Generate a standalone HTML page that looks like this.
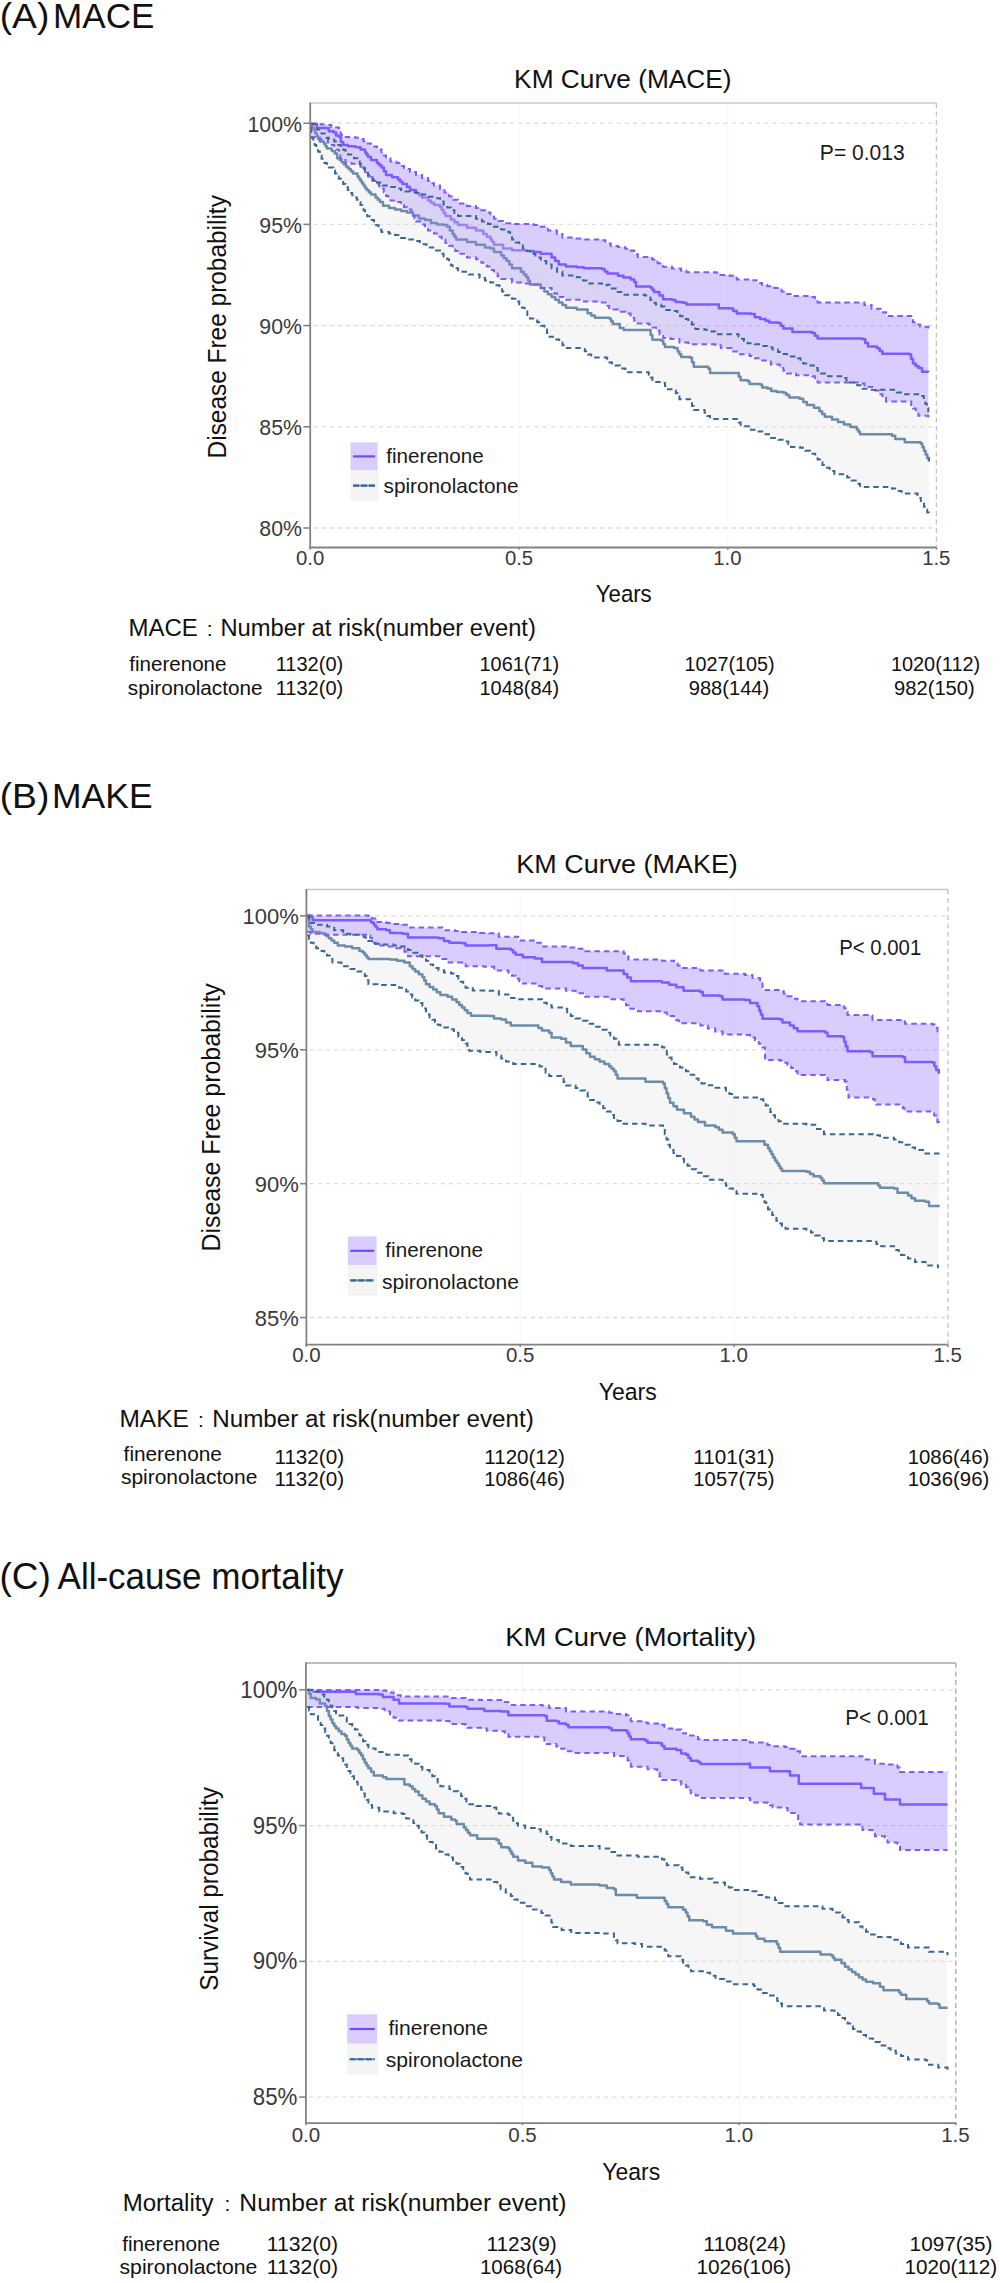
<!DOCTYPE html>
<html><head><meta charset="utf-8"><style>
html,body{margin:0;padding:0;background:#fff;}
svg{display:block;font-family:"Liberation Sans",sans-serif;}
</style></head><body>
<svg width="1000" height="2283" viewBox="0 0 1000 2283">
<rect width="1000" height="2283" fill="#ffffff"/>
<line x1="313.2" y1="123.2" x2="934.4" y2="123.2" stroke="#dcdcdc" stroke-width="1.3" stroke-dasharray="4.2,4"/>
<line x1="313.2" y1="224.4" x2="934.4" y2="224.4" stroke="#dcdcdc" stroke-width="1.3" stroke-dasharray="4.2,4"/>
<line x1="313.2" y1="325.6" x2="934.4" y2="325.6" stroke="#dcdcdc" stroke-width="1.3" stroke-dasharray="4.2,4"/>
<line x1="313.2" y1="426.8" x2="934.4" y2="426.8" stroke="#dcdcdc" stroke-width="1.3" stroke-dasharray="4.2,4"/>
<line x1="313.2" y1="528.0" x2="934.4" y2="528.0" stroke="#dcdcdc" stroke-width="1.3" stroke-dasharray="4.2,4"/>
<line x1="519.0" y1="103.0" x2="519.0" y2="547.5" stroke="#f7f7f7" stroke-width="1"/>
<line x1="727.8" y1="103.0" x2="727.8" y2="547.5" stroke="#f7f7f7" stroke-width="1"/>
<line x1="310.2" y1="103.0" x2="936.4" y2="103.0" stroke="#c8c8c8" stroke-width="1.5"/>
<line x1="936.4" y1="103.0" x2="936.4" y2="547.5" stroke="#c4c4c4" stroke-width="1.3" stroke-dasharray="5,3.5"/>
<path d="M310.8,124.0L316.8,124.0L316.8,127.9L327.0,127.9L327.0,128.2L328.8,128.2L328.8,131.2L333.6,131.2L333.6,132.4L336.0,132.4L336.0,135.4L338.4,135.4L338.4,136.6L340.8,136.6L340.8,142.0L343.2,142.0L343.2,145.0L348.0,145.0L348.0,146.2L355.2,146.2L355.2,146.8L356.0,146.8L356.0,147.2L360.5,147.2L360.5,149.5L365.0,149.5L365.0,152.5L366.5,152.5L366.5,154.8L368.0,154.8L368.0,157.0L371.0,157.0L371.0,160.0L377.0,160.0L377.0,163.0L379.2,163.0L379.2,165.2L381.5,165.2L381.5,167.5L383.8,167.5L383.8,171.2L386.0,171.2L386.0,175.0L392.0,175.0L392.0,177.2L398.0,177.2L398.0,179.5L400.2,179.5L400.2,181.8L402.5,181.8L402.5,184.0L407.0,184.0L407.0,187.0L410.0,187.0L410.0,190.0L416.0,190.0L416.0,193.0L419.0,193.0L419.0,195.2L422.0,195.2L422.0,197.5L428.0,197.5L428.0,200.5L431.0,200.5L431.0,202.8L434.0,202.8L434.0,205.0L440.0,205.0L440.0,207.0L441.8,207.0L441.8,210.0L443.6,210.0L443.6,213.0L445.4,213.0L445.4,216.0L450.8,216.0L450.8,219.6L454.4,219.6L454.4,222.3L458.0,222.3L458.0,225.0L467.0,225.0L467.0,227.7L476.0,227.7L476.0,230.4L483.2,230.4L483.2,234.0L486.8,234.0L486.8,236.7L490.4,236.7L490.4,239.4L492.2,239.4L492.2,242.1L494.0,242.1L494.0,244.8L503.0,244.8L503.0,248.4L512.0,248.4L512.0,250.2L526.4,250.2L526.4,251.1L533.6,251.1L533.6,252.0L540.8,252.0L540.8,253.8L551.6,253.8L551.6,257.4L555.2,257.4L555.2,261.0L558.8,261.0L558.8,264.6L566.0,264.6L566.0,266.4L576.8,266.4L576.8,267.3L584.0,267.3L584.0,268.2L602.0,268.2L602.0,269.1L604.7,269.1L604.7,271.4L607.4,271.4L607.4,273.6L618.0,273.6L618.0,275.8L623.4,275.8L623.4,277.6L630.6,277.6L630.6,279.4L634.2,279.4L634.2,282.1L636.0,282.1L636.0,286.6L650.4,286.6L650.4,287.5L652.2,287.5L652.2,289.8L654.0,289.8L654.0,292.0L659.4,292.0L659.4,295.6L663.0,295.6L663.0,299.2L672.0,299.2L672.0,300.1L675.6,300.1L675.6,301.9L682.8,301.9L682.8,302.8L686.4,302.8L686.4,304.6L715.2,304.6L715.2,304.6L718.8,304.6L718.8,308.2L729.6,308.2L729.6,308.6L733.2,308.6L733.2,310.9L736.8,310.9L736.8,313.6L751.2,313.6L751.2,314.0L754.8,314.0L754.8,317.2L760.2,317.2L760.2,319.0L765.6,319.0L765.6,320.8L769.2,320.8L769.2,322.6L778.0,322.6L778.0,323.1L780.7,323.1L780.7,325.8L783.4,325.8L783.4,328.5L792.4,328.5L792.4,332.1L812.2,332.1L812.2,333.0L814.9,333.0L814.9,335.7L817.6,335.7L817.6,338.4L862.6,338.4L862.6,339.3L865.3,339.3L865.3,342.9L868.0,342.9L868.0,346.5L877.0,346.5L877.0,348.3L879.7,348.3L879.7,351.0L882.4,351.0L882.4,353.7L909.4,353.7L909.4,354.6L911.2,354.6L911.2,359.1L913.0,359.1L913.0,363.6L915.7,363.6L915.7,365.9L918.4,365.9L918.4,368.1L922.0,368.1L922.0,371.7L928.3,371.7L928.3,372.2" fill="none" stroke="#7a5cff" stroke-width="2.5" stroke-linejoin="round"/>
<path d="M310.8,125.2L312.3,125.2L312.3,127.6L313.8,127.6L313.8,130.0L315.3,130.0L315.3,133.3L316.8,133.3L316.8,136.6L318.3,136.6L318.3,139.0L319.8,139.0L319.8,141.4L324.0,141.4L324.0,143.8L325.5,143.8L325.5,146.2L327.0,146.2L327.0,148.6L331.8,148.6L331.8,151.0L334.8,151.0L334.8,153.4L337.2,153.4L337.2,158.2L339.5,158.2L339.5,160.0L341.8,160.0L341.8,162.2L344.0,162.2L344.0,164.5L346.2,164.5L346.2,166.8L348.5,166.8L348.5,169.0L350.8,169.0L350.8,171.2L353.0,171.2L353.0,173.5L357.5,173.5L357.5,176.5L359.0,176.5L359.0,178.8L360.5,178.8L360.5,181.0L362.0,181.0L362.0,183.2L363.5,183.2L363.5,185.5L365.0,185.5L365.0,187.8L366.5,187.8L366.5,190.0L368.8,190.0L368.8,192.2L371.0,192.2L371.0,194.5L375.5,194.5L375.5,197.5L377.8,197.5L377.8,199.8L380.0,199.8L380.0,202.0L383.0,202.0L383.0,205.8L389.0,205.8L389.0,208.0L395.0,208.0L395.0,209.5L401.0,209.5L401.0,211.0L407.0,211.0L407.0,212.5L413.0,212.5L413.0,215.5L419.0,215.5L419.0,218.5L425.0,218.5L425.0,220.0L431.0,220.0L431.0,223.0L437.0,223.0L437.0,224.5L443.6,224.5L443.6,225.0L447.2,225.0L447.2,226.8L449.9,226.8L449.9,230.4L452.6,230.4L452.6,234.0L454.4,234.0L454.4,236.7L456.2,236.7L456.2,239.4L467.0,239.4L467.0,242.1L476.0,242.1L476.0,244.8L485.0,244.8L485.0,247.5L490.4,247.5L490.4,248.4L494.0,248.4L494.0,252.0L501.2,252.0L501.2,255.6L503.9,255.6L503.9,258.3L506.6,258.3L506.6,261.0L509.3,261.0L509.3,264.6L512.0,264.6L512.0,268.2L521.0,268.2L521.0,271.8L523.7,271.8L523.7,274.5L526.4,274.5L526.4,277.2L528.2,277.2L528.2,280.8L530.0,280.8L530.0,284.4L540.8,284.4L540.8,288.0L544.4,288.0L544.4,291.6L548.0,291.6L548.0,294.3L551.6,294.3L551.6,297.0L555.2,297.0L555.2,299.7L558.8,299.7L558.8,302.4L562.4,302.4L562.4,305.1L566.0,305.1L566.0,307.8L576.8,307.8L576.8,309.6L587.6,309.6L587.6,313.2L591.2,313.2L591.2,315.4L594.8,315.4L594.8,317.7L609.2,317.7L609.2,318.6L611.0,318.6L611.0,321.3L612.8,321.3L612.8,324.0L619.8,324.0L619.8,328.0L623.6,328.0L623.6,329.9L648.8,329.9L648.8,329.9L650.6,329.9L650.6,334.9L652.4,334.9L652.4,339.8L661.4,339.8L661.4,340.7L663.2,340.7L663.2,343.9L665.0,343.9L665.0,347.0L674.0,347.0L674.0,347.9L677.6,347.9L677.6,351.5L679.4,351.5L679.4,354.2L681.2,354.2L681.2,356.9L690.2,356.9L690.2,357.8L692.0,357.8L692.0,362.3L693.8,362.3L693.8,366.8L708.2,366.8L708.2,368.6L710.0,368.6L710.0,373.1L737.0,373.1L737.0,373.1L738.8,373.1L738.8,376.7L740.6,376.7L740.6,380.3L747.8,380.3L747.8,381.2L749.6,381.2L749.6,383.9L760.4,383.9L760.4,384.8L762.2,384.8L762.2,387.5L767.6,387.5L767.6,388.4L771.2,388.4L771.2,391.1L776.6,391.1L776.6,392.0L783.8,392.0L783.8,392.9L786.5,392.9L786.5,395.1L789.2,395.1L789.2,397.4L799.6,397.4L799.6,398.7L803.2,398.7L803.2,401.9L806.8,401.9L806.8,405.0L814.0,405.0L814.0,407.7L819.4,407.7L819.4,411.3L822.1,411.3L822.1,414.0L824.8,414.0L824.8,416.7L832.0,416.7L832.0,419.4L838.0,419.4L838.0,422.0L844.0,422.0L844.0,424.6L850.4,424.6L850.4,427.0L856.8,427.0L856.8,429.4L858.4,429.4L858.4,431.8L860.0,431.8L860.0,434.2L892.0,434.2L892.0,435.8L895.2,435.8L895.2,439.0L904.8,439.0L904.8,442.2L920.8,442.2L920.8,443.8L922.4,443.8L922.4,447.3L924.0,447.3L924.0,450.8L925.6,450.8L925.6,454.4L927.2,454.4L927.2,457.9L928.8,457.9L928.8,461.4" fill="none" stroke="#3c6792" stroke-width="2.5" stroke-linejoin="round"/>
<path d="M310.8,123.4L315.6,123.4L315.6,124.0L321.0,124.0L321.0,124.6L325.8,124.6L325.8,124.9L331.2,124.9L331.2,127.0L333.6,127.0L333.6,127.6L339.0,127.6L339.0,130.6L340.8,130.6L340.8,134.8L343.2,134.8L343.2,136.9L349.2,136.9L349.2,137.2L355.8,137.2L355.8,137.8L359.0,137.8L359.0,139.0L363.5,139.0L363.5,141.2L366.5,141.2L366.5,143.5L371.0,143.5L371.0,146.5L377.0,146.5L377.0,149.5L381.5,149.5L381.5,152.5L383.8,152.5L383.8,155.5L386.0,155.5L386.0,158.5L390.5,158.5L390.5,161.5L396.5,161.5L396.5,163.0L401.0,163.0L401.0,166.0L404.0,166.0L404.0,169.0L410.0,169.0L410.0,172.0L416.0,172.0L416.0,175.0L422.0,175.0L422.0,178.0L428.0,178.0L428.0,181.0L431.0,181.0L431.0,183.2L434.0,183.2L434.0,185.5L440.0,185.5L440.0,189.0L444.5,189.0L444.5,192.6L449.0,192.6L449.0,196.2L453.5,196.2L453.5,199.8L458.0,199.8L458.0,203.4L467.0,203.4L467.0,206.1L476.0,206.1L476.0,207.9L481.4,207.9L481.4,210.2L486.8,210.2L486.8,212.4L490.4,212.4L490.4,215.6L494.0,215.6L494.0,218.7L498.5,218.7L498.5,220.9L503.0,220.9L503.0,223.2L512.0,223.2L512.0,224.1L522.8,224.1L522.8,224.1L533.6,224.1L533.6,225.0L540.8,225.0L540.8,226.8L548.0,226.8L548.0,230.4L557.0,230.4L557.0,234.0L562.4,234.0L562.4,237.6L575.0,237.6L575.0,238.5L584.0,238.5L584.0,239.4L602.0,239.4L602.0,240.3L605.4,240.3L605.4,243.4L610.8,243.4L610.8,246.1L618.0,246.1L618.0,247.0L625.2,247.0L625.2,248.8L630.6,248.8L630.6,250.6L634.2,250.6L634.2,254.2L637.8,254.2L637.8,256.9L648.6,256.9L648.6,256.9L652.2,256.9L652.2,259.6L657.6,259.6L657.6,263.2L663.0,263.2L663.0,266.8L672.0,266.8L672.0,268.6L681.0,268.6L681.0,270.4L686.4,270.4L686.4,272.2L715.2,272.2L715.2,272.6L720.6,272.6L720.6,274.9L729.6,274.9L729.6,275.8L736.8,275.8L736.8,279.4L751.2,279.4L751.2,280.3L756.6,280.3L756.6,283.0L762.0,283.0L762.0,284.8L767.2,284.8L767.2,286.2L774.4,286.2L774.4,288.0L781.6,288.0L781.6,291.6L786.1,291.6L786.1,293.9L790.6,293.9L790.6,296.1L812.2,296.1L812.2,297.0L814.9,297.0L814.9,299.7L817.6,299.7L817.6,302.4L860.8,302.4L860.8,302.4L864.4,302.4L864.4,305.1L871.6,305.1L871.6,308.7L880.6,308.7L880.6,312.3L886.0,312.3L886.0,315.9L909.4,315.9L909.4,315.9L911.2,315.9L911.2,319.0L913.0,319.0L913.0,322.2L916.6,322.2L916.6,324.4L920.2,324.4L920.2,326.7L928.3,326.7L928.3,330.3L928.3,419.4L928.3,415.8L918.4,415.8L918.4,412.2L915.7,412.2L915.7,408.6L913.0,408.6L913.0,405.0L911.2,405.0L911.2,401.4L909.4,401.4L909.4,401.4L886.0,401.4L886.0,397.8L882.4,397.8L882.4,394.2L878.8,394.2L878.8,390.6L875.2,390.6L875.2,387.0L864.4,387.0L864.4,383.4L860.8,383.4L860.8,382.5L842.8,382.5L842.8,382.5L817.6,382.5L817.6,379.4L814.9,379.4L814.9,376.2L812.2,376.2L812.2,375.3L796.0,375.3L796.0,373.5L787.0,373.5L787.0,370.8L783.4,370.8L783.4,368.1L779.8,368.1L779.8,364.5L770.8,364.5L770.8,360.5L760.4,360.5L760.4,358.2L755.0,358.2L755.0,356.0L749.6,356.0L749.6,354.2L738.8,354.2L738.8,351.5L731.6,351.5L731.6,347.9L720.8,347.9L720.8,345.2L715.4,345.2L715.4,344.3L710.0,344.3L710.0,344.3L688.4,344.3L688.4,342.5L679.4,342.5L679.4,338.9L670.4,338.9L670.4,338.0L663.2,338.0L663.2,334.4L659.6,334.4L659.6,330.8L656.0,330.8L656.0,327.6L652.4,327.6L652.4,324.5L648.8,324.5L648.8,323.5L636.0,323.5L636.0,320.8L634.2,320.8L634.2,318.1L632.4,318.1L632.4,315.4L630.6,315.4L630.6,313.6L625.2,313.6L625.2,311.8L618.0,311.8L618.0,309.6L609.2,309.6L609.2,306.0L605.6,306.0L605.6,302.4L598.4,302.4L598.4,301.5L584.0,301.5L584.0,299.7L566.0,299.7L566.0,297.0L557.0,297.0L557.0,293.4L554.3,293.4L554.3,289.8L551.6,289.8L551.6,288.0L540.8,288.0L540.8,284.4L530.0,284.4L530.0,283.5L521.0,283.5L521.0,282.6L512.0,282.6L512.0,279.0L501.2,279.0L501.2,276.3L497.6,276.3L497.6,273.6L494.0,273.6L494.0,270.0L490.4,270.0L490.4,266.4L486.8,266.4L486.8,262.8L481.4,262.8L481.4,259.2L476.0,259.2L476.0,257.4L467.0,257.4L467.0,253.8L458.0,253.8L458.0,251.1L455.3,251.1L455.3,248.4L452.6,248.4L452.6,245.7L449.0,245.7L449.0,243.0L445.4,243.0L445.4,239.8L441.6,239.8L441.6,236.7L437.8,236.7L437.8,233.5L434.0,233.5L434.0,230.5L428.0,230.5L428.0,227.5L425.0,227.5L425.0,224.5L422.0,224.5L422.0,221.5L416.0,221.5L416.0,218.5L414.5,218.5L414.5,215.5L413.0,215.5L413.0,212.5L411.5,212.5L411.5,209.5L407.0,209.5L407.0,207.2L404.0,207.2L404.0,205.0L401.0,205.0L401.0,202.0L395.0,202.0L395.0,200.5L390.5,200.5L390.5,198.2L388.2,198.2L388.2,196.0L386.0,196.0L386.0,192.2L383.8,192.2L383.8,188.5L381.5,188.5L381.5,186.2L379.2,186.2L379.2,184.0L377.0,184.0L377.0,181.0L372.5,181.0L372.5,178.8L370.2,178.8L370.2,176.5L368.0,176.5L368.0,174.2L366.5,174.2L366.5,172.0L365.0,172.0L365.0,169.4L362.8,169.4L362.8,166.8L360.5,166.8L360.5,164.5L356.0,164.5L356.0,163.8L351.5,163.8L351.5,163.0L345.5,163.0L345.5,160.0L342.5,160.0L342.5,158.2L340.2,158.2L340.2,154.0L339.0,154.0L339.0,149.8L336.6,149.8L336.6,148.0L334.2,148.0L334.2,145.0L330.0,145.0L330.0,142.6L327.6,142.6L327.6,139.6L324.0,139.6L324.0,139.6L319.8,139.6L319.8,137.5L315.0,137.5L315.0,137.2L311.2,137.2L311.2,127.0L310.8,127.0Z" fill="rgba(130,88,255,0.3)" stroke="none"/>
<path d="M310.8,124.0L315.0,124.0L315.0,127.0L317.1,127.0L317.1,129.4L319.2,129.4L319.2,131.8L321.6,131.8L321.6,133.6L326.4,133.6L326.4,137.8L328.8,137.8L328.8,139.6L334.2,139.6L334.2,141.4L336.0,141.4L336.0,145.0L340.8,145.0L340.8,148.6L343.2,148.6L343.2,149.8L345.6,149.8L345.6,152.2L348.0,152.2L348.0,154.6L354.0,154.6L354.0,158.2L357.5,158.2L357.5,161.5L359.8,161.5L359.8,163.8L362.0,163.8L362.0,166.0L363.5,166.0L363.5,168.2L365.0,168.2L365.0,170.5L366.5,170.5L366.5,172.8L368.0,172.8L368.0,175.0L370.2,175.0L370.2,177.2L372.5,177.2L372.5,179.5L377.0,179.5L377.0,182.5L383.0,182.5L383.0,185.5L389.0,185.5L389.0,187.0L395.0,187.0L395.0,188.5L401.0,188.5L401.0,190.0L405.5,190.0L405.5,191.5L410.0,191.5L410.0,192.2L416.0,192.2L416.0,193.0L422.0,193.0L422.0,194.5L428.0,194.5L428.0,196.8L434.0,196.8L434.0,198.2L440.0,198.2L440.0,201.6L443.6,201.6L443.6,204.5L447.2,204.5L447.2,207.4L450.8,207.4L450.8,210.2L454.4,210.2L454.4,213.1L458.0,213.1L458.0,216.0L476.0,216.0L476.0,218.7L482.0,218.7L482.0,221.4L488.0,221.4L488.0,224.1L494.0,224.1L494.0,226.8L501.2,226.8L501.2,229.5L508.4,229.5L508.4,232.2L510.2,232.2L510.2,235.8L512.0,235.8L512.0,239.4L515.6,239.4L515.6,242.4L519.2,242.4L519.2,245.4L522.8,245.4L522.8,248.4L526.4,248.4L526.4,251.1L530.0,251.1L530.0,253.8L535.4,253.8L535.4,257.4L540.8,257.4L540.8,261.0L546.2,261.0L546.2,264.6L551.6,264.6L551.6,268.2L557.0,268.2L557.0,271.8L562.4,271.8L562.4,275.4L576.8,275.4L576.8,277.2L583.1,277.2L583.1,280.4L589.4,280.4L589.4,283.5L602.0,283.5L602.0,285.3L607.2,285.3L607.2,284.8L610.8,284.8L610.8,288.4L616.2,288.4L616.2,292.0L623.4,292.0L623.4,294.7L645.0,294.7L645.0,295.6L648.6,295.6L648.6,297.4L650.4,297.4L650.4,300.1L652.2,300.1L652.2,302.8L655.8,302.8L655.8,304.6L661.2,304.6L661.2,306.4L664.8,306.4L664.8,310.0L672.0,310.0L672.0,310.9L677.4,310.9L677.4,313.6L680.1,313.6L680.1,316.3L682.8,316.3L682.8,319.0L688.2,319.0L688.2,319.9L690.0,319.9L690.0,322.1L691.8,322.1L691.8,324.4L693.6,324.4L693.6,326.6L695.4,326.6L695.4,328.9L704.4,328.9L704.4,329.8L711.6,329.8L711.6,331.6L715.2,331.6L715.2,334.3L736.8,334.3L736.8,334.3L738.6,334.3L738.6,336.6L740.4,336.6L740.4,338.8L744.0,338.8L744.0,341.1L747.6,341.1L747.6,343.3L754.8,343.3L754.8,344.2L762.0,344.2L762.0,346.0L767.2,346.0L767.2,347.4L772.6,347.4L772.6,349.6L778.0,349.6L778.0,351.9L782.5,351.9L782.5,354.1L787.0,354.1L787.0,356.4L797.8,356.4L797.8,358.2L800.5,358.2L800.5,360.9L803.2,360.9L803.2,363.6L810.4,363.6L810.4,365.4L815.8,365.4L815.8,368.1L817.6,368.1L817.6,370.8L819.4,370.8L819.4,373.5L824.8,373.5L824.8,376.2L842.8,376.2L842.8,378.0L846.4,378.0L846.4,380.2L850.0,380.2L850.0,382.5L857.2,382.5L857.2,385.2L862.6,385.2L862.6,388.8L868.0,388.8L868.0,389.7L896.8,389.7L896.8,392.4L904.0,392.4L904.0,394.2L920.2,394.2L920.2,396.0L923.8,396.0L923.8,399.6L925.3,399.6L925.3,403.8L926.8,403.8L926.8,408.0L928.3,408.0L928.3,412.2L928.8,514.2L928.8,512.6L927.2,512.6L927.2,509.7L925.6,509.7L925.6,506.7L924.0,506.7L924.0,503.8L922.4,503.8L922.4,500.9L920.8,500.9L920.8,497.9L919.2,497.9L919.2,495.0L917.6,495.0L917.6,493.4L901.6,493.4L901.6,491.0L896.8,491.0L896.8,488.6L892.0,488.6L892.0,487.0L860.0,487.0L860.0,483.8L855.7,483.8L855.7,480.6L851.5,480.6L851.5,477.4L847.2,477.4L847.2,474.2L834.4,474.2L834.4,471.0L829.6,471.0L829.6,467.8L824.8,467.8L824.8,465.0L822.4,465.0L822.4,462.2L820.0,462.2L820.0,459.4L817.6,459.4L817.6,456.6L815.2,456.6L815.2,453.7L810.1,453.7L810.1,450.7L805.1,450.7L805.1,447.8L800.0,447.8L800.0,446.9L791.0,446.9L791.0,444.2L788.3,444.2L788.3,441.5L785.6,441.5L785.6,439.7L778.4,439.7L778.4,437.9L771.2,437.9L771.2,434.3L764.0,434.3L764.0,431.6L756.8,431.6L756.8,429.8L749.6,429.8L749.6,426.2L740.6,426.2L740.6,422.6L738.8,422.6L738.8,419.0L737.0,419.0L737.0,419.0L710.0,419.0L710.0,415.9L707.3,415.9L707.3,412.7L704.6,412.7L704.6,410.0L693.8,410.0L693.8,405.9L692.0,405.9L692.0,401.9L690.2,401.9L690.2,399.2L679.4,399.2L679.4,396.2L677.6,396.2L677.6,393.2L675.8,393.2L675.8,390.2L674.0,390.2L674.0,389.3L666.8,389.3L666.8,386.1L665.0,386.1L665.0,383.0L663.2,383.0L663.2,382.1L654.2,382.1L654.2,379.9L652.4,379.9L652.4,377.6L650.6,377.6L650.6,374.9L648.8,374.9L648.8,372.2L647.0,372.2L647.0,372.2L625.4,372.2L625.4,368.6L620.0,368.6L620.0,365.6L612.0,365.6L612.0,362.4L609.6,362.4L609.6,359.2L607.2,359.2L607.2,357.6L591.2,357.6L591.2,354.4L588.0,354.4L588.0,351.2L584.8,351.2L584.8,348.0L565.6,348.0L565.6,345.2L562.4,345.2L562.4,342.4L559.2,342.4L559.2,339.6L554.4,339.6L554.4,336.8L549.6,336.8L549.6,333.1L547.0,333.1L547.0,329.4L544.4,329.4L544.4,325.8L540.8,325.8L540.8,322.2L537.2,322.2L537.2,318.6L530.0,318.6L530.0,315.0L527.3,315.0L527.3,311.4L524.6,311.4L524.6,307.8L521.9,307.8L521.9,304.2L519.2,304.2L519.2,301.5L515.6,301.5L515.6,298.8L512.0,298.8L512.0,295.2L504.8,295.2L504.8,291.6L502.1,291.6L502.1,288.0L499.4,288.0L499.4,285.3L494.9,285.3L494.9,282.6L490.4,282.6L490.4,280.4L485.0,280.4L485.0,278.1L479.6,278.1L479.6,274.5L468.8,274.5L468.8,271.8L458.0,271.8L458.0,268.2L452.6,268.2L452.6,265.2L450.8,265.2L450.8,262.2L449.0,262.2L449.0,259.2L447.2,259.2L447.2,256.5L443.6,256.5L443.6,253.8L440.0,253.8L440.0,250.6L433.2,250.6L433.2,247.4L426.5,247.4L426.5,244.2L419.8,244.2L419.8,241.0L413.0,241.0L413.0,239.5L407.0,239.5L407.0,238.0L401.0,238.0L401.0,235.0L395.0,235.0L395.0,233.5L389.0,233.5L389.0,232.0L381.5,232.0L381.5,229.8L380.0,229.8L380.0,227.5L378.5,227.5L378.5,225.2L376.2,225.2L376.2,223.0L374.0,223.0L374.0,220.0L369.5,220.0L369.5,216.2L367.2,216.2L367.2,212.5L365.0,212.5L365.0,210.2L363.5,210.2L363.5,208.0L362.0,208.0L362.0,205.0L360.5,205.0L360.5,202.0L359.0,202.0L359.0,199.8L356.8,199.8L356.8,197.5L354.5,197.5L354.5,195.2L352.2,195.2L352.2,193.0L350.0,193.0L350.0,190.0L347.8,190.0L347.8,187.0L345.5,187.0L345.5,184.0L343.2,184.0L343.2,181.0L341.0,181.0L341.0,178.8L338.8,178.8L338.8,176.5L336.5,176.5L336.5,173.5L335.0,173.5L335.0,170.5L333.5,170.5L333.5,167.5L329.0,167.5L329.0,165.2L326.8,165.2L326.8,163.0L324.5,163.0L324.5,158.8L321.6,158.8L321.6,155.8L319.8,155.8L319.8,151.6L318.0,151.6L318.0,148.6L316.2,148.6L316.2,145.0L314.7,145.0L314.7,141.4L313.2,141.4L313.2,137.8L311.2,137.8L311.2,128.0L310.8,128.0Z" fill="rgba(226,226,226,0.3)" stroke="none"/>
<path d="M310.8,123.4L315.6,123.4L315.6,124.0L321.0,124.0L321.0,124.6L325.8,124.6L325.8,124.9L331.2,124.9L331.2,127.0L333.6,127.0L333.6,127.6L339.0,127.6L339.0,130.6L340.8,130.6L340.8,134.8L343.2,134.8L343.2,136.9L349.2,136.9L349.2,137.2L355.8,137.2L355.8,137.8L359.0,137.8L359.0,139.0L363.5,139.0L363.5,141.2L366.5,141.2L366.5,143.5L371.0,143.5L371.0,146.5L377.0,146.5L377.0,149.5L381.5,149.5L381.5,152.5L383.8,152.5L383.8,155.5L386.0,155.5L386.0,158.5L390.5,158.5L390.5,161.5L396.5,161.5L396.5,163.0L401.0,163.0L401.0,166.0L404.0,166.0L404.0,169.0L410.0,169.0L410.0,172.0L416.0,172.0L416.0,175.0L422.0,175.0L422.0,178.0L428.0,178.0L428.0,181.0L431.0,181.0L431.0,183.2L434.0,183.2L434.0,185.5L440.0,185.5L440.0,189.0L444.5,189.0L444.5,192.6L449.0,192.6L449.0,196.2L453.5,196.2L453.5,199.8L458.0,199.8L458.0,203.4L467.0,203.4L467.0,206.1L476.0,206.1L476.0,207.9L481.4,207.9L481.4,210.2L486.8,210.2L486.8,212.4L490.4,212.4L490.4,215.6L494.0,215.6L494.0,218.7L498.5,218.7L498.5,220.9L503.0,220.9L503.0,223.2L512.0,223.2L512.0,224.1L522.8,224.1L522.8,224.1L533.6,224.1L533.6,225.0L540.8,225.0L540.8,226.8L548.0,226.8L548.0,230.4L557.0,230.4L557.0,234.0L562.4,234.0L562.4,237.6L575.0,237.6L575.0,238.5L584.0,238.5L584.0,239.4L602.0,239.4L602.0,240.3L605.4,240.3L605.4,243.4L610.8,243.4L610.8,246.1L618.0,246.1L618.0,247.0L625.2,247.0L625.2,248.8L630.6,248.8L630.6,250.6L634.2,250.6L634.2,254.2L637.8,254.2L637.8,256.9L648.6,256.9L648.6,256.9L652.2,256.9L652.2,259.6L657.6,259.6L657.6,263.2L663.0,263.2L663.0,266.8L672.0,266.8L672.0,268.6L681.0,268.6L681.0,270.4L686.4,270.4L686.4,272.2L715.2,272.2L715.2,272.6L720.6,272.6L720.6,274.9L729.6,274.9L729.6,275.8L736.8,275.8L736.8,279.4L751.2,279.4L751.2,280.3L756.6,280.3L756.6,283.0L762.0,283.0L762.0,284.8L767.2,284.8L767.2,286.2L774.4,286.2L774.4,288.0L781.6,288.0L781.6,291.6L786.1,291.6L786.1,293.9L790.6,293.9L790.6,296.1L812.2,296.1L812.2,297.0L814.9,297.0L814.9,299.7L817.6,299.7L817.6,302.4L860.8,302.4L860.8,302.4L864.4,302.4L864.4,305.1L871.6,305.1L871.6,308.7L880.6,308.7L880.6,312.3L886.0,312.3L886.0,315.9L909.4,315.9L909.4,315.9L911.2,315.9L911.2,319.0L913.0,319.0L913.0,322.2L916.6,322.2L916.6,324.4L920.2,324.4L920.2,326.7L928.3,326.7L928.3,330.3" fill="none" stroke="#7a5cff" stroke-width="2.0" stroke-dasharray="5.5,4"/>
<path d="M310.8,127.0L311.2,127.0L311.2,137.2L315.0,137.2L315.0,137.5L319.8,137.5L319.8,139.6L324.0,139.6L324.0,139.6L327.6,139.6L327.6,142.6L330.0,142.6L330.0,145.0L334.2,145.0L334.2,148.0L336.6,148.0L336.6,149.8L339.0,149.8L339.0,154.0L340.2,154.0L340.2,158.2L342.5,158.2L342.5,160.0L345.5,160.0L345.5,163.0L351.5,163.0L351.5,163.8L356.0,163.8L356.0,164.5L360.5,164.5L360.5,166.8L362.8,166.8L362.8,169.4L365.0,169.4L365.0,172.0L366.5,172.0L366.5,174.2L368.0,174.2L368.0,176.5L370.2,176.5L370.2,178.8L372.5,178.8L372.5,181.0L377.0,181.0L377.0,184.0L379.2,184.0L379.2,186.2L381.5,186.2L381.5,188.5L383.8,188.5L383.8,192.2L386.0,192.2L386.0,196.0L388.2,196.0L388.2,198.2L390.5,198.2L390.5,200.5L395.0,200.5L395.0,202.0L401.0,202.0L401.0,205.0L404.0,205.0L404.0,207.2L407.0,207.2L407.0,209.5L411.5,209.5L411.5,212.5L413.0,212.5L413.0,215.5L414.5,215.5L414.5,218.5L416.0,218.5L416.0,221.5L422.0,221.5L422.0,224.5L425.0,224.5L425.0,227.5L428.0,227.5L428.0,230.5L434.0,230.5L434.0,233.5L437.8,233.5L437.8,236.7L441.6,236.7L441.6,239.8L445.4,239.8L445.4,243.0L449.0,243.0L449.0,245.7L452.6,245.7L452.6,248.4L455.3,248.4L455.3,251.1L458.0,251.1L458.0,253.8L467.0,253.8L467.0,257.4L476.0,257.4L476.0,259.2L481.4,259.2L481.4,262.8L486.8,262.8L486.8,266.4L490.4,266.4L490.4,270.0L494.0,270.0L494.0,273.6L497.6,273.6L497.6,276.3L501.2,276.3L501.2,279.0L512.0,279.0L512.0,282.6L521.0,282.6L521.0,283.5L530.0,283.5L530.0,284.4L540.8,284.4L540.8,288.0L551.6,288.0L551.6,289.8L554.3,289.8L554.3,293.4L557.0,293.4L557.0,297.0L566.0,297.0L566.0,299.7L584.0,299.7L584.0,301.5L598.4,301.5L598.4,302.4L605.6,302.4L605.6,306.0L609.2,306.0L609.2,309.6L618.0,309.6L618.0,311.8L625.2,311.8L625.2,313.6L630.6,313.6L630.6,315.4L632.4,315.4L632.4,318.1L634.2,318.1L634.2,320.8L636.0,320.8L636.0,323.5L648.8,323.5L648.8,324.5L652.4,324.5L652.4,327.6L656.0,327.6L656.0,330.8L659.6,330.8L659.6,334.4L663.2,334.4L663.2,338.0L670.4,338.0L670.4,338.9L679.4,338.9L679.4,342.5L688.4,342.5L688.4,344.3L710.0,344.3L710.0,344.3L715.4,344.3L715.4,345.2L720.8,345.2L720.8,347.9L731.6,347.9L731.6,351.5L738.8,351.5L738.8,354.2L749.6,354.2L749.6,356.0L755.0,356.0L755.0,358.2L760.4,358.2L760.4,360.5L770.8,360.5L770.8,364.5L779.8,364.5L779.8,368.1L783.4,368.1L783.4,370.8L787.0,370.8L787.0,373.5L796.0,373.5L796.0,375.3L812.2,375.3L812.2,376.2L814.9,376.2L814.9,379.4L817.6,379.4L817.6,382.5L842.8,382.5L842.8,382.5L860.8,382.5L860.8,383.4L864.4,383.4L864.4,387.0L875.2,387.0L875.2,390.6L878.8,390.6L878.8,394.2L882.4,394.2L882.4,397.8L886.0,397.8L886.0,401.4L909.4,401.4L909.4,401.4L911.2,401.4L911.2,405.0L913.0,405.0L913.0,408.6L915.7,408.6L915.7,412.2L918.4,412.2L918.4,415.8L928.3,415.8L928.3,419.4" fill="none" stroke="#7a5cff" stroke-width="2.0" stroke-dasharray="5.5,4"/>
<path d="M310.8,124.0L315.0,124.0L315.0,127.0L317.1,127.0L317.1,129.4L319.2,129.4L319.2,131.8L321.6,131.8L321.6,133.6L326.4,133.6L326.4,137.8L328.8,137.8L328.8,139.6L334.2,139.6L334.2,141.4L336.0,141.4L336.0,145.0L340.8,145.0L340.8,148.6L343.2,148.6L343.2,149.8L345.6,149.8L345.6,152.2L348.0,152.2L348.0,154.6L354.0,154.6L354.0,158.2L357.5,158.2L357.5,161.5L359.8,161.5L359.8,163.8L362.0,163.8L362.0,166.0L363.5,166.0L363.5,168.2L365.0,168.2L365.0,170.5L366.5,170.5L366.5,172.8L368.0,172.8L368.0,175.0L370.2,175.0L370.2,177.2L372.5,177.2L372.5,179.5L377.0,179.5L377.0,182.5L383.0,182.5L383.0,185.5L389.0,185.5L389.0,187.0L395.0,187.0L395.0,188.5L401.0,188.5L401.0,190.0L405.5,190.0L405.5,191.5L410.0,191.5L410.0,192.2L416.0,192.2L416.0,193.0L422.0,193.0L422.0,194.5L428.0,194.5L428.0,196.8L434.0,196.8L434.0,198.2L440.0,198.2L440.0,201.6L443.6,201.6L443.6,204.5L447.2,204.5L447.2,207.4L450.8,207.4L450.8,210.2L454.4,210.2L454.4,213.1L458.0,213.1L458.0,216.0L476.0,216.0L476.0,218.7L482.0,218.7L482.0,221.4L488.0,221.4L488.0,224.1L494.0,224.1L494.0,226.8L501.2,226.8L501.2,229.5L508.4,229.5L508.4,232.2L510.2,232.2L510.2,235.8L512.0,235.8L512.0,239.4L515.6,239.4L515.6,242.4L519.2,242.4L519.2,245.4L522.8,245.4L522.8,248.4L526.4,248.4L526.4,251.1L530.0,251.1L530.0,253.8L535.4,253.8L535.4,257.4L540.8,257.4L540.8,261.0L546.2,261.0L546.2,264.6L551.6,264.6L551.6,268.2L557.0,268.2L557.0,271.8L562.4,271.8L562.4,275.4L576.8,275.4L576.8,277.2L583.1,277.2L583.1,280.4L589.4,280.4L589.4,283.5L602.0,283.5L602.0,285.3L607.2,285.3L607.2,284.8L610.8,284.8L610.8,288.4L616.2,288.4L616.2,292.0L623.4,292.0L623.4,294.7L645.0,294.7L645.0,295.6L648.6,295.6L648.6,297.4L650.4,297.4L650.4,300.1L652.2,300.1L652.2,302.8L655.8,302.8L655.8,304.6L661.2,304.6L661.2,306.4L664.8,306.4L664.8,310.0L672.0,310.0L672.0,310.9L677.4,310.9L677.4,313.6L680.1,313.6L680.1,316.3L682.8,316.3L682.8,319.0L688.2,319.0L688.2,319.9L690.0,319.9L690.0,322.1L691.8,322.1L691.8,324.4L693.6,324.4L693.6,326.6L695.4,326.6L695.4,328.9L704.4,328.9L704.4,329.8L711.6,329.8L711.6,331.6L715.2,331.6L715.2,334.3L736.8,334.3L736.8,334.3L738.6,334.3L738.6,336.6L740.4,336.6L740.4,338.8L744.0,338.8L744.0,341.1L747.6,341.1L747.6,343.3L754.8,343.3L754.8,344.2L762.0,344.2L762.0,346.0L767.2,346.0L767.2,347.4L772.6,347.4L772.6,349.6L778.0,349.6L778.0,351.9L782.5,351.9L782.5,354.1L787.0,354.1L787.0,356.4L797.8,356.4L797.8,358.2L800.5,358.2L800.5,360.9L803.2,360.9L803.2,363.6L810.4,363.6L810.4,365.4L815.8,365.4L815.8,368.1L817.6,368.1L817.6,370.8L819.4,370.8L819.4,373.5L824.8,373.5L824.8,376.2L842.8,376.2L842.8,378.0L846.4,378.0L846.4,380.2L850.0,380.2L850.0,382.5L857.2,382.5L857.2,385.2L862.6,385.2L862.6,388.8L868.0,388.8L868.0,389.7L896.8,389.7L896.8,392.4L904.0,392.4L904.0,394.2L920.2,394.2L920.2,396.0L923.8,396.0L923.8,399.6L925.3,399.6L925.3,403.8L926.8,403.8L926.8,408.0L928.3,408.0L928.3,412.2" fill="none" stroke="#3c6792" stroke-width="2.0" stroke-dasharray="5.5,4"/>
<path d="M310.8,128.0L311.2,128.0L311.2,137.8L313.2,137.8L313.2,141.4L314.7,141.4L314.7,145.0L316.2,145.0L316.2,148.6L318.0,148.6L318.0,151.6L319.8,151.6L319.8,155.8L321.6,155.8L321.6,158.8L324.5,158.8L324.5,163.0L326.8,163.0L326.8,165.2L329.0,165.2L329.0,167.5L333.5,167.5L333.5,170.5L335.0,170.5L335.0,173.5L336.5,173.5L336.5,176.5L338.8,176.5L338.8,178.8L341.0,178.8L341.0,181.0L343.2,181.0L343.2,184.0L345.5,184.0L345.5,187.0L347.8,187.0L347.8,190.0L350.0,190.0L350.0,193.0L352.2,193.0L352.2,195.2L354.5,195.2L354.5,197.5L356.8,197.5L356.8,199.8L359.0,199.8L359.0,202.0L360.5,202.0L360.5,205.0L362.0,205.0L362.0,208.0L363.5,208.0L363.5,210.2L365.0,210.2L365.0,212.5L367.2,212.5L367.2,216.2L369.5,216.2L369.5,220.0L374.0,220.0L374.0,223.0L376.2,223.0L376.2,225.2L378.5,225.2L378.5,227.5L380.0,227.5L380.0,229.8L381.5,229.8L381.5,232.0L389.0,232.0L389.0,233.5L395.0,233.5L395.0,235.0L401.0,235.0L401.0,238.0L407.0,238.0L407.0,239.5L413.0,239.5L413.0,241.0L419.8,241.0L419.8,244.2L426.5,244.2L426.5,247.4L433.2,247.4L433.2,250.6L440.0,250.6L440.0,253.8L443.6,253.8L443.6,256.5L447.2,256.5L447.2,259.2L449.0,259.2L449.0,262.2L450.8,262.2L450.8,265.2L452.6,265.2L452.6,268.2L458.0,268.2L458.0,271.8L468.8,271.8L468.8,274.5L479.6,274.5L479.6,278.1L485.0,278.1L485.0,280.4L490.4,280.4L490.4,282.6L494.9,282.6L494.9,285.3L499.4,285.3L499.4,288.0L502.1,288.0L502.1,291.6L504.8,291.6L504.8,295.2L512.0,295.2L512.0,298.8L515.6,298.8L515.6,301.5L519.2,301.5L519.2,304.2L521.9,304.2L521.9,307.8L524.6,307.8L524.6,311.4L527.3,311.4L527.3,315.0L530.0,315.0L530.0,318.6L537.2,318.6L537.2,322.2L540.8,322.2L540.8,325.8L544.4,325.8L544.4,329.4L547.0,329.4L547.0,333.1L549.6,333.1L549.6,336.8L554.4,336.8L554.4,339.6L559.2,339.6L559.2,342.4L562.4,342.4L562.4,345.2L565.6,345.2L565.6,348.0L584.8,348.0L584.8,351.2L588.0,351.2L588.0,354.4L591.2,354.4L591.2,357.6L607.2,357.6L607.2,359.2L609.6,359.2L609.6,362.4L612.0,362.4L612.0,365.6L620.0,365.6L620.0,368.6L625.4,368.6L625.4,372.2L647.0,372.2L647.0,372.2L648.8,372.2L648.8,374.9L650.6,374.9L650.6,377.6L652.4,377.6L652.4,379.9L654.2,379.9L654.2,382.1L663.2,382.1L663.2,383.0L665.0,383.0L665.0,386.1L666.8,386.1L666.8,389.3L674.0,389.3L674.0,390.2L675.8,390.2L675.8,393.2L677.6,393.2L677.6,396.2L679.4,396.2L679.4,399.2L690.2,399.2L690.2,401.9L692.0,401.9L692.0,405.9L693.8,405.9L693.8,410.0L704.6,410.0L704.6,412.7L707.3,412.7L707.3,415.9L710.0,415.9L710.0,419.0L737.0,419.0L737.0,419.0L738.8,419.0L738.8,422.6L740.6,422.6L740.6,426.2L749.6,426.2L749.6,429.8L756.8,429.8L756.8,431.6L764.0,431.6L764.0,434.3L771.2,434.3L771.2,437.9L778.4,437.9L778.4,439.7L785.6,439.7L785.6,441.5L788.3,441.5L788.3,444.2L791.0,444.2L791.0,446.9L800.0,446.9L800.0,447.8L805.1,447.8L805.1,450.7L810.1,450.7L810.1,453.7L815.2,453.7L815.2,456.6L817.6,456.6L817.6,459.4L820.0,459.4L820.0,462.2L822.4,462.2L822.4,465.0L824.8,465.0L824.8,467.8L829.6,467.8L829.6,471.0L834.4,471.0L834.4,474.2L847.2,474.2L847.2,477.4L851.5,477.4L851.5,480.6L855.7,480.6L855.7,483.8L860.0,483.8L860.0,487.0L892.0,487.0L892.0,488.6L896.8,488.6L896.8,491.0L901.6,491.0L901.6,493.4L917.6,493.4L917.6,495.0L919.2,495.0L919.2,497.9L920.8,497.9L920.8,500.9L922.4,500.9L922.4,503.8L924.0,503.8L924.0,506.7L925.6,506.7L925.6,509.7L927.2,509.7L927.2,512.6L928.8,512.6L928.8,514.2" fill="none" stroke="#3c6792" stroke-width="2.0" stroke-dasharray="5.5,4"/>
<line x1="310.2" y1="102.5" x2="310.2" y2="548.4" stroke="#828282" stroke-width="1.8"/>
<line x1="309.3" y1="547.5" x2="936.4" y2="547.5" stroke="#828282" stroke-width="1.8"/>
<line x1="303.4" y1="123.2" x2="310.2" y2="123.2" stroke="#828282" stroke-width="1.6"/>
<line x1="303.4" y1="224.4" x2="310.2" y2="224.4" stroke="#828282" stroke-width="1.6"/>
<line x1="303.4" y1="325.6" x2="310.2" y2="325.6" stroke="#828282" stroke-width="1.6"/>
<line x1="303.4" y1="426.8" x2="310.2" y2="426.8" stroke="#828282" stroke-width="1.6"/>
<line x1="303.4" y1="528.0" x2="310.2" y2="528.0" stroke="#828282" stroke-width="1.6"/>
<line x1="310.2" y1="547.5" x2="310.2" y2="549.7" stroke="#828282" stroke-width="1.5"/>
<line x1="519.0" y1="547.5" x2="519.0" y2="549.7" stroke="#828282" stroke-width="1.5"/>
<line x1="727.8" y1="547.5" x2="727.8" y2="549.7" stroke="#828282" stroke-width="1.5"/>
<line x1="936.6" y1="547.5" x2="936.6" y2="549.7" stroke="#828282" stroke-width="1.5"/>
<rect x="350.5" y="442.3" width="27.1" height="28.1" fill="#dacdfe"/>
<rect x="350.5" y="470.4" width="28.0" height="30.4" fill="#f4f4f4"/>
<line x1="353.0" y1="456.4" x2="375.1" y2="456.4" stroke="#6b4dff" stroke-width="2.2"/>
<line x1="353.0" y1="485.6" x2="375.1" y2="485.6" stroke="#7f9ab3" stroke-width="2.1"/>
<line x1="353.0" y1="485.6" x2="375.1" y2="485.6" stroke="#3c6792" stroke-width="2.1" stroke-dasharray="6,2"/>
<text x="-0.31" y="27.60" font-size="34.00" fill="#111111" textLength="49.62" lengthAdjust="spacingAndGlyphs" transform="matrix(1,0,0,1.0500,0,-1.380)">(A)</text>
<text x="53.12" y="27.60" font-size="34.00" fill="#111111" textLength="101.39" lengthAdjust="spacingAndGlyphs" transform="matrix(1,0,0,1.0500,0,-1.380)">MACE</text>
<text x="514.14" y="87.50" font-size="25.00" fill="#111111" textLength="217.48" lengthAdjust="spacingAndGlyphs">KM Curve (MACE)</text>
<text transform="translate(225.60,458.40) rotate(-90) scale(1,1.050)" x="0" y="0" font-size="24.40" fill="#111111" textLength="263.25" lengthAdjust="spacingAndGlyphs">Disease Free probability</text>
<text x="247.48" y="131.55" font-size="21.30" fill="#3a3a3a" textLength="54.48" lengthAdjust="spacingAndGlyphs" transform="matrix(1,0,0,1.0500,0,-6.578)">100%</text>
<text x="259.33" y="232.70" font-size="21.30" fill="#3a3a3a" textLength="42.63" lengthAdjust="spacingAndGlyphs" transform="matrix(1,0,0,1.0500,0,-11.635)">95%</text>
<text x="259.33" y="333.90" font-size="21.30" fill="#3a3a3a" textLength="42.63" lengthAdjust="spacingAndGlyphs" transform="matrix(1,0,0,1.0500,0,-16.695)">90%</text>
<text x="259.33" y="435.10" font-size="21.30" fill="#3a3a3a" textLength="42.63" lengthAdjust="spacingAndGlyphs" transform="matrix(1,0,0,1.0500,0,-21.755)">85%</text>
<text x="259.33" y="536.30" font-size="21.30" fill="#3a3a3a" textLength="42.63" lengthAdjust="spacingAndGlyphs" transform="matrix(1,0,0,1.0500,0,-26.815)">80%</text>
<text x="296.09" y="565.20" font-size="20.30" fill="#3a3a3a" textLength="28.22" lengthAdjust="spacingAndGlyphs">0.0</text>
<text x="504.92" y="565.20" font-size="20.30" fill="#3a3a3a" textLength="28.22" lengthAdjust="spacingAndGlyphs">0.5</text>
<text x="713.31" y="565.20" font-size="20.30" fill="#3a3a3a" textLength="28.22" lengthAdjust="spacingAndGlyphs">1.0</text>
<text x="922.14" y="565.20" font-size="20.30" fill="#3a3a3a" textLength="28.22" lengthAdjust="spacingAndGlyphs">1.5</text>
<text x="595.83" y="602.30" font-size="22.00" fill="#111111" textLength="55.84" lengthAdjust="spacingAndGlyphs" transform="matrix(1,0,0,1.0800,0,-48.184)">Years</text>
<text x="819.87" y="160.00" font-size="21.00" fill="#1a1a1a" textLength="84.85" lengthAdjust="spacingAndGlyphs" transform="matrix(1,0,0,1.0400,0,-6.400)">P= 0.013</text>
<text x="386.21" y="462.80" font-size="20.60" fill="#1a1a1a" textLength="97.61" lengthAdjust="spacingAndGlyphs">finerenone</text>
<text x="383.52" y="492.80" font-size="20.60" fill="#1a1a1a" textLength="135.10" lengthAdjust="spacingAndGlyphs">spironolactone</text>
<text x="128.53" y="635.90" font-size="21.00" fill="#111111" textLength="69.30" lengthAdjust="spacingAndGlyphs" transform="matrix(1,0,0,1.1000,0,-63.590)">MACE</text>
<text x="206.68" y="635.90" font-size="21.00" fill="#111111" textLength="5.83" lengthAdjust="spacingAndGlyphs">:</text>
<text x="220.45" y="635.90" font-size="21.00" fill="#111111" textLength="315.42" lengthAdjust="spacingAndGlyphs" transform="matrix(1,0,0,1.1000,0,-63.590)">Number at risk(number event)</text>
<text x="129.31" y="671.40" font-size="20.30" fill="#111111" textLength="97.21" lengthAdjust="spacingAndGlyphs">finerenone</text>
<text x="127.82" y="695.40" font-size="20.30" fill="#111111" textLength="134.70" lengthAdjust="spacingAndGlyphs">spironolactone</text>
<text x="275.71" y="671.40" font-size="20.00" fill="#111111" textLength="67.51" lengthAdjust="spacingAndGlyphs" transform="matrix(1,0,0,1.0300,0,-20.142)">1132(0)</text>
<text x="479.48" y="671.40" font-size="20.00" fill="#111111" textLength="79.75" lengthAdjust="spacingAndGlyphs" transform="matrix(1,0,0,1.0300,0,-20.142)">1061(71)</text>
<text x="684.49" y="671.40" font-size="20.00" fill="#111111" textLength="90.23" lengthAdjust="spacingAndGlyphs" transform="matrix(1,0,0,1.0300,0,-20.142)">1027(105)</text>
<text x="890.91" y="671.40" font-size="20.00" fill="#111111" textLength="89.31" lengthAdjust="spacingAndGlyphs" transform="matrix(1,0,0,1.0300,0,-20.142)">1020(112)</text>
<text x="275.71" y="695.40" font-size="20.00" fill="#111111" textLength="67.51" lengthAdjust="spacingAndGlyphs" transform="matrix(1,0,0,1.0300,0,-20.862)">1132(0)</text>
<text x="479.48" y="695.40" font-size="20.00" fill="#111111" textLength="79.75" lengthAdjust="spacingAndGlyphs" transform="matrix(1,0,0,1.0300,0,-20.862)">1048(84)</text>
<text x="688.76" y="695.40" font-size="20.00" fill="#111111" textLength="80.49" lengthAdjust="spacingAndGlyphs" transform="matrix(1,0,0,1.0300,0,-20.862)">988(144)</text>
<text x="894.06" y="695.40" font-size="20.00" fill="#111111" textLength="80.70" lengthAdjust="spacingAndGlyphs" transform="matrix(1,0,0,1.0300,0,-20.862)">982(150)</text>
<line x1="309.4" y1="915.9" x2="946.0" y2="915.9" stroke="#dcdcdc" stroke-width="1.3" stroke-dasharray="4.2,4"/>
<line x1="309.4" y1="1049.8" x2="946.0" y2="1049.8" stroke="#dcdcdc" stroke-width="1.3" stroke-dasharray="4.2,4"/>
<line x1="309.4" y1="1183.7" x2="946.0" y2="1183.7" stroke="#dcdcdc" stroke-width="1.3" stroke-dasharray="4.2,4"/>
<line x1="309.4" y1="1317.5" x2="946.0" y2="1317.5" stroke="#dcdcdc" stroke-width="1.3" stroke-dasharray="4.2,4"/>
<line x1="520.2" y1="889.5" x2="520.2" y2="1344.7" stroke="#f7f7f7" stroke-width="1"/>
<line x1="734.1" y1="889.5" x2="734.1" y2="1344.7" stroke="#f7f7f7" stroke-width="1"/>
<line x1="306.4" y1="889.5" x2="948.0" y2="889.5" stroke="#c8c8c8" stroke-width="1.5"/>
<line x1="948.0" y1="889.5" x2="948.0" y2="1344.7" stroke="#c4c4c4" stroke-width="1.3" stroke-dasharray="5,3.5"/>
<path d="M307.2,915.8L310.8,915.8L310.8,916.7L312.6,916.7L312.6,920.3L368.4,920.3L368.4,920.3L371.1,920.3L371.1,922.5L373.8,922.5L373.8,924.8L375.6,924.8L375.6,927.0L377.4,927.0L377.4,929.3L386.4,929.3L386.4,930.2L390.0,930.2L390.0,932.9L402.6,932.9L402.6,933.8L408.0,933.8L408.0,937.4L438.6,937.4L438.6,938.3L444.0,938.3L444.0,941.0L449.4,941.0L449.4,942.8L462.0,942.8L462.0,943.2L465.6,943.2L465.6,945.5L480.0,945.5L480.0,945.5L489.2,945.5L489.2,945.2L496.4,945.2L496.4,948.8L510.8,948.8L510.8,950.0L513.2,950.0L513.2,952.4L515.6,952.4L515.6,954.8L522.8,954.8L522.8,957.2L534.8,957.2L534.8,958.4L542.0,958.4L542.0,962.0L573.2,962.0L573.2,963.2L578.0,963.2L578.0,965.6L582.8,965.6L582.8,968.0L606.8,968.0L606.8,970.4L623.6,970.4L623.6,974.0L627.2,974.0L627.2,977.6L630.8,977.6L630.8,981.2L662.0,981.2L662.0,982.4L669.2,982.4L669.2,984.8L676.4,984.8L676.4,987.2L683.6,987.2L683.6,990.8L700.4,990.8L700.4,992.0L702.8,992.0L702.8,995.6L720.0,995.6L720.0,996.2L722.5,996.2L722.5,999.5L745.0,999.5L745.0,1000.0L750.0,1000.0L750.0,1003.0L757.5,1003.0L757.5,1006.2L759.2,1006.2L759.2,1010.4L760.8,1010.4L760.8,1014.6L762.5,1014.6L762.5,1018.8L780.0,1018.8L780.0,1019.5L782.5,1019.5L782.5,1022.5L790.0,1022.5L790.0,1025.5L793.8,1025.5L793.8,1028.3L797.5,1028.3L797.5,1031.2L825.0,1031.2L825.0,1032.5L827.5,1032.5L827.5,1036.2L842.5,1036.2L842.5,1037.0L844.2,1037.0L844.2,1041.7L845.8,1041.7L845.8,1046.5L847.5,1046.5L847.5,1051.2L870.0,1051.2L870.0,1052.0L872.5,1052.0L872.5,1056.2L902.5,1056.2L902.5,1057.0L905.0,1057.0L905.0,1062.0L932.5,1062.0L932.5,1062.5L934.4,1062.5L934.4,1066.2L936.2,1066.2L936.2,1070.0L938.8,1070.0L938.8,1073.8" fill="none" stroke="#7a5cff" stroke-width="2.5" stroke-linejoin="round"/>
<path d="M307.2,917.6L309.0,917.6L309.0,926.6L310.8,926.6L310.8,929.3L312.6,929.3L312.6,932.0L319.8,932.0L319.8,932.9L323.4,932.9L323.4,933.8L326.1,933.8L326.1,936.0L328.8,936.0L328.8,938.3L331.5,938.3L331.5,940.5L334.2,940.5L334.2,942.8L337.8,942.8L337.8,945.5L345.0,945.5L345.0,946.4L352.2,946.4L352.2,948.2L359.4,948.2L359.4,950.9L363.0,950.9L363.0,952.7L364.8,952.7L364.8,955.0L366.6,955.0L366.6,957.2L368.4,957.2L368.4,959.0L390.0,959.0L390.0,959.4L397.2,959.4L397.2,960.8L404.4,960.8L404.4,962.6L409.8,962.6L409.8,966.2L412.5,966.2L412.5,968.9L415.2,968.9L415.2,971.6L418.8,971.6L418.8,974.3L422.4,974.3L422.4,977.0L424.2,977.0L424.2,980.6L426.0,980.6L426.0,984.2L429.6,984.2L429.6,986.9L433.2,986.9L433.2,989.6L436.8,989.6L436.8,992.3L440.4,992.3L440.4,995.0L447.6,995.0L447.6,996.8L452.1,996.8L452.1,999.5L456.6,999.5L456.6,1002.2L459.3,1002.2L459.3,1004.9L462.0,1004.9L462.0,1007.6L464.7,1007.6L464.7,1010.3L467.4,1010.3L467.4,1013.0L471.0,1013.0L471.0,1015.7L480.0,1015.7L480.0,1015.7L489.2,1015.7L489.2,1016.0L494.0,1016.0L494.0,1018.4L501.2,1018.4L501.2,1019.6L506.0,1019.6L506.0,1022.6L510.8,1022.6L510.8,1025.6L534.8,1025.6L534.8,1025.6L538.4,1025.6L538.4,1028.0L542.0,1028.0L542.0,1030.4L549.2,1030.4L549.2,1032.8L551.6,1032.8L551.6,1037.6L561.2,1037.6L561.2,1038.8L566.0,1038.8L566.0,1042.4L570.8,1042.4L570.8,1046.0L582.8,1046.0L582.8,1049.6L586.4,1049.6L586.4,1053.2L590.0,1053.2L590.0,1056.8L594.8,1056.8L594.8,1059.2L599.6,1059.2L599.6,1061.6L604.4,1061.6L604.4,1064.0L609.2,1064.0L609.2,1066.4L611.6,1066.4L611.6,1068.8L614.0,1068.8L614.0,1071.2L615.8,1071.2L615.8,1074.8L617.5,1074.8L617.5,1078.4L645.5,1078.4L645.5,1081.8L663.0,1081.8L663.0,1083.5L664.8,1083.5L664.8,1088.3L666.5,1088.3L666.5,1093.2L668.2,1093.2L668.2,1098.0L670.0,1098.0L670.0,1102.8L673.5,1102.8L673.5,1106.3L677.0,1106.3L677.0,1109.8L684.0,1109.8L684.0,1113.2L691.0,1113.2L691.0,1116.8L694.5,1116.8L694.5,1119.4L698.0,1119.4L698.0,1122.0L705.0,1122.0L705.0,1125.5L715.5,1125.5L715.5,1127.2L719.0,1127.2L719.0,1129.8L722.5,1129.8L722.5,1132.5L733.0,1132.5L733.0,1134.2L734.8,1134.2L734.8,1137.7L736.5,1137.7L736.5,1141.2L761.0,1141.2L761.0,1141.2L764.5,1141.2L764.5,1144.7L768.0,1144.7L768.0,1148.2L769.8,1148.2L769.8,1151.3L771.5,1151.3L771.5,1154.3L773.2,1154.3L773.2,1157.4L775.0,1157.4L775.0,1160.5L776.8,1160.5L776.8,1163.1L778.5,1163.1L778.5,1165.8L780.2,1165.8L780.2,1168.4L782.0,1168.4L782.0,1171.0L806.5,1171.0L806.5,1171.7L810.0,1171.7L810.0,1174.0L813.5,1174.0L813.5,1176.2L820.5,1176.2L820.5,1178.0L822.2,1178.0L822.2,1180.6L824.0,1180.6L824.0,1183.2L876.5,1183.2L876.5,1183.2L878.2,1183.2L878.2,1185.5L880.0,1185.5L880.0,1187.8L894.0,1187.8L894.0,1188.5L897.5,1188.5L897.5,1192.7L908.0,1192.7L908.0,1195.5L911.5,1195.5L911.5,1198.2L915.0,1198.2L915.0,1200.8L925.5,1200.8L925.5,1201.8L929.0,1201.8L929.0,1206.0L939.5,1206.0L939.5,1206.0" fill="none" stroke="#3c6792" stroke-width="2.5" stroke-linejoin="round"/>
<path d="M307.2,915.4L368.4,915.4L368.4,916.2L372.0,916.2L372.0,918.5L377.4,918.5L377.4,922.1L386.4,922.1L386.4,923.0L393.6,923.0L393.6,923.9L402.6,923.9L402.6,924.8L408.0,924.8L408.0,927.5L436.8,927.5L436.8,927.5L442.2,927.5L442.2,930.2L454.8,930.2L454.8,931.1L462.0,931.1L462.0,932.0L480.0,932.0L480.0,932.9L489.2,932.9L489.2,933.2L498.8,933.2L498.8,936.8L518.0,936.8L518.0,940.4L534.8,940.4L534.8,942.8L542.0,942.8L542.0,946.4L566.0,946.4L566.0,947.6L575.6,947.6L575.6,948.8L585.2,948.8L585.2,951.2L604.4,951.2L604.4,951.2L623.6,951.2L623.6,953.6L626.0,953.6L626.0,956.6L628.4,956.6L628.4,959.6L662.0,959.6L662.0,960.8L674.0,960.8L674.0,963.2L677.6,963.2L677.6,965.6L681.2,965.6L681.2,968.0L700.4,968.0L700.4,970.4L722.5,970.4L722.5,971.2L725.0,971.2L725.0,973.8L745.0,973.8L745.0,975.0L752.5,975.0L752.5,978.1L760.0,978.1L760.0,981.2L762.5,981.2L762.5,990.0L780.0,990.0L780.0,991.2L783.8,991.2L783.8,993.7L787.5,993.7L787.5,996.2L792.5,996.2L792.5,998.7L797.5,998.7L797.5,1001.2L825.0,1001.2L825.0,1002.0L827.5,1002.0L827.5,1005.0L842.5,1005.0L842.5,1005.0L844.2,1005.0L844.2,1008.3L845.8,1008.3L845.8,1011.7L847.5,1011.7L847.5,1015.0L870.0,1015.0L870.0,1015.5L872.5,1015.5L872.5,1020.0L902.5,1020.0L902.5,1020.0L905.0,1020.0L905.0,1023.8L932.5,1023.8L932.5,1024.5L935.0,1024.5L935.0,1027.8L937.5,1027.8L937.5,1031.2L939.0,1031.2L939.0,1033.8L939.0,1125.5L939.0,1122.2L937.4,1122.2L937.4,1118.8L935.8,1118.8L935.8,1115.5L934.1,1115.5L934.1,1112.2L932.5,1112.2L932.5,1111.5L904.5,1111.5L904.5,1108.3L902.8,1108.3L902.8,1105.2L901.0,1105.2L901.0,1104.5L876.5,1104.5L876.5,1101.8L874.8,1101.8L874.8,1099.2L873.0,1099.2L873.0,1097.5L848.5,1097.5L848.5,1089.7L846.8,1089.7L846.8,1081.8L845.0,1081.8L845.0,1080.0L827.5,1080.0L827.5,1075.5L825.0,1075.5L825.0,1075.0L797.5,1075.0L797.5,1071.2L795.0,1071.2L795.0,1068.1L791.2,1068.1L791.2,1065.0L787.5,1065.0L787.5,1062.8L783.8,1062.8L783.8,1060.5L780.0,1060.5L780.0,1060.0L765.0,1060.0L765.0,1047.5L762.5,1047.5L762.5,1043.8L758.8,1043.8L758.8,1040.0L755.0,1040.0L755.0,1037.5L750.0,1037.5L750.0,1035.0L745.0,1035.0L745.0,1034.5L722.5,1034.5L722.5,1031.5L715.1,1031.5L715.1,1028.6L707.8,1028.6L707.8,1025.6L700.4,1025.6L700.4,1023.2L678.8,1023.2L678.8,1020.2L676.4,1020.2L676.4,1017.2L674.0,1017.2L674.0,1016.0L666.8,1016.0L666.8,1012.4L662.0,1012.4L662.0,1011.2L638.0,1011.2L638.0,1008.8L628.4,1008.8L628.4,1005.2L626.0,1005.2L626.0,1001.6L623.6,1001.6L623.6,999.2L609.2,999.2L609.2,996.8L585.2,996.8L585.2,993.2L575.6,993.2L575.6,990.8L566.0,990.8L566.0,988.4L542.0,988.4L542.0,986.0L537.2,986.0L537.2,983.6L522.8,983.6L522.8,981.2L519.2,981.2L519.2,978.8L515.6,978.8L515.6,975.8L512.0,975.8L512.0,972.8L508.4,972.8L508.4,970.4L494.0,970.4L494.0,966.8L484.4,966.8L484.4,966.2L480.0,966.2L480.0,966.2L465.6,966.2L465.6,964.4L462.0,964.4L462.0,962.6L447.6,962.6L447.6,959.0L442.2,959.0L442.2,956.3L436.8,956.3L436.8,956.3L408.0,956.3L408.0,954.0L406.2,954.0L406.2,951.8L404.4,951.8L404.4,949.1L400.8,949.1L400.8,948.2L393.6,948.2L393.6,946.4L386.4,946.4L386.4,945.5L375.6,945.5L375.6,942.8L373.8,942.8L373.8,940.1L372.0,940.1L372.0,937.9L370.2,937.9L370.2,935.6L368.4,935.6L368.4,934.7L363.0,934.7L363.0,934.7L321.6,934.7L321.6,933.8L310.8,933.8L310.8,932.0L307.2,932.0Z" fill="rgba(130,88,255,0.3)" stroke="none"/>
<path d="M307.2,915.8L309.0,915.8L309.0,919.4L310.8,919.4L310.8,923.0L318.0,923.0L318.0,924.8L327.0,924.8L327.0,926.6L334.2,926.6L334.2,930.2L343.2,930.2L343.2,933.8L350.4,933.8L350.4,934.7L359.4,934.7L359.4,936.5L364.8,936.5L364.8,937.4L368.4,937.4L368.4,941.0L373.8,941.0L373.8,943.7L381.0,943.7L381.0,944.6L393.6,944.6L393.6,945.5L400.8,945.5L400.8,946.4L408.0,946.4L408.0,950.0L413.4,950.0L413.4,952.7L418.8,952.7L418.8,955.4L422.4,955.4L422.4,958.1L426.0,958.1L426.0,960.8L429.6,960.8L429.6,964.4L433.2,964.4L433.2,968.0L438.6,968.0L438.6,970.2L444.0,970.2L444.0,972.5L451.2,972.5L451.2,973.4L454.8,973.4L454.8,976.1L458.4,976.1L458.4,978.8L460.8,978.8L460.8,981.8L463.2,981.8L463.2,984.8L465.6,984.8L465.6,987.8L472.8,987.8L472.8,990.5L480.0,990.5L480.0,990.5L484.4,990.5L484.4,990.8L498.8,990.8L498.8,994.4L508.4,994.4L508.4,998.0L515.6,998.0L515.6,999.2L534.8,999.2L534.8,999.2L542.0,999.2L542.0,1002.8L546.8,1002.8L546.8,1005.2L551.6,1005.2L551.6,1007.6L563.6,1007.6L563.6,1008.8L567.2,1008.8L567.2,1012.4L570.8,1012.4L570.8,1016.0L575.6,1016.0L575.6,1018.4L580.4,1018.4L580.4,1020.8L587.6,1020.8L587.6,1023.8L594.8,1023.8L594.8,1026.8L600.8,1026.8L600.8,1029.8L606.8,1029.8L606.8,1032.8L610.4,1032.8L610.4,1035.8L614.0,1035.8L614.0,1038.8L616.4,1038.8L616.4,1041.8L618.8,1041.8L618.8,1044.8L662.0,1044.8L662.0,1047.2L664.4,1047.2L664.4,1050.8L666.8,1050.8L666.8,1054.4L669.2,1054.4L669.2,1057.6L671.6,1057.6L671.6,1060.8L674.0,1060.8L674.0,1064.0L680.0,1064.0L680.0,1067.6L686.0,1067.6L686.0,1071.2L690.8,1071.2L690.8,1074.8L695.6,1074.8L695.6,1078.4L698.5,1078.4L698.5,1081.0L701.5,1081.0L701.5,1083.5L705.0,1083.5L705.0,1085.2L715.5,1085.2L715.5,1087.8L726.0,1087.8L726.0,1090.5L729.5,1090.5L729.5,1094.0L733.0,1094.0L733.0,1097.5L761.0,1097.5L761.0,1099.2L763.3,1099.2L763.3,1102.4L765.7,1102.4L765.7,1105.6L768.0,1105.6L768.0,1108.8L770.3,1108.8L770.3,1112.1L772.7,1112.1L772.7,1115.3L775.0,1115.3L775.0,1118.5L778.5,1118.5L778.5,1121.2L782.0,1121.2L782.0,1123.8L806.5,1123.8L806.5,1124.8L817.0,1124.8L817.0,1129.0L820.5,1129.0L820.5,1131.6L824.0,1131.6L824.0,1134.2L873.0,1134.2L873.0,1135.3L880.0,1135.3L880.0,1137.8L894.0,1137.8L894.0,1139.5L899.2,1139.5L899.2,1142.2L904.5,1142.2L904.5,1144.8L909.8,1144.8L909.8,1147.4L915.0,1147.4L915.0,1150.0L925.5,1150.0L925.5,1153.5L939.5,1153.5L939.5,1155.2L938.0,1268.3L938.0,1265.5L925.5,1265.5L925.5,1262.0L915.0,1262.0L915.0,1258.5L908.0,1258.5L908.0,1255.0L901.0,1255.0L901.0,1252.4L898.7,1252.4L898.7,1249.9L896.3,1249.9L896.3,1247.3L894.0,1247.3L894.0,1246.2L880.0,1246.2L880.0,1244.0L876.5,1244.0L876.5,1241.7L873.0,1241.7L873.0,1241.0L824.0,1241.0L824.0,1238.2L819.6,1238.2L819.6,1235.4L815.2,1235.4L815.2,1232.6L810.9,1232.6L810.9,1229.8L806.5,1229.8L806.5,1228.8L785.5,1228.8L785.5,1226.2L782.0,1226.2L782.0,1223.5L778.5,1223.5L778.5,1220.7L776.4,1220.7L776.4,1217.9L774.3,1217.9L774.3,1215.1L772.2,1215.1L772.2,1212.3L770.1,1212.3L770.1,1209.5L768.0,1209.5L768.0,1205.8L766.2,1205.8L766.2,1202.2L764.5,1202.2L764.5,1198.5L762.8,1198.5L762.8,1194.8L761.0,1194.8L761.0,1193.8L736.5,1193.8L736.5,1191.2L733.0,1191.2L733.0,1188.5L729.5,1188.5L729.5,1185.8L726.0,1185.8L726.0,1183.2L722.5,1183.2L722.5,1179.8L708.5,1179.8L708.5,1176.2L701.5,1176.2L701.5,1172.7L696.2,1172.7L696.2,1169.2L691.0,1169.2L691.0,1165.7L687.5,1165.7L687.5,1162.3L684.0,1162.3L684.0,1158.8L680.5,1158.8L680.5,1155.9L677.0,1155.9L677.0,1152.9L673.5,1152.9L673.5,1150.0L670.0,1150.0L670.0,1144.8L668.2,1144.8L668.2,1139.5L666.5,1139.5L666.5,1134.2L664.8,1134.2L664.8,1129.0L663.0,1129.0L663.0,1125.5L645.5,1125.5L645.5,1123.8L621.0,1123.8L621.0,1120.9L617.5,1120.9L617.5,1117.9L614.0,1117.9L614.0,1115.0L610.5,1115.0L610.5,1111.6L606.9,1111.6L606.9,1108.2L603.2,1108.2L603.2,1104.8L599.6,1104.8L599.6,1102.4L594.8,1102.4L594.8,1100.0L590.0,1100.0L590.0,1096.4L587.6,1096.4L587.6,1092.8L585.2,1092.8L585.2,1090.4L580.4,1090.4L580.4,1088.0L575.6,1088.0L575.6,1085.6L566.0,1085.6L566.0,1082.0L563.6,1082.0L563.6,1078.4L561.2,1078.4L561.2,1076.0L549.2,1076.0L549.2,1072.4L545.6,1072.4L545.6,1068.8L542.0,1068.8L542.0,1066.4L539.6,1066.4L539.6,1064.0L537.2,1064.0L537.2,1064.0L513.2,1064.0L513.2,1061.6L506.0,1061.6L506.0,1058.6L501.2,1058.6L501.2,1055.6L496.4,1055.6L496.4,1052.0L484.4,1052.0L484.4,1051.7L480.0,1051.7L480.0,1050.8L469.2,1050.8L469.2,1047.2L467.4,1047.2L467.4,1043.6L465.6,1043.6L465.6,1040.0L462.0,1040.0L462.0,1036.4L458.4,1036.4L458.4,1032.8L453.9,1032.8L453.9,1029.2L449.4,1029.2L449.4,1027.4L440.4,1027.4L440.4,1024.7L437.7,1024.7L437.7,1022.0L435.0,1022.0L435.0,1019.8L432.3,1019.8L432.3,1017.5L429.6,1017.5L429.6,1014.4L427.8,1014.4L427.8,1011.2L426.0,1011.2L426.0,1008.5L424.2,1008.5L424.2,1005.8L422.4,1005.8L422.4,1003.1L418.8,1003.1L418.8,1000.4L415.2,1000.4L415.2,997.4L412.2,997.4L412.2,994.4L409.2,994.4L409.2,991.4L406.2,991.4L406.2,987.8L399.0,987.8L399.0,985.1L391.8,985.1L391.8,985.1L377.4,985.1L377.4,984.2L368.4,984.2L368.4,980.2L366.6,980.2L366.6,976.1L364.8,976.1L364.8,973.9L361.2,973.9L361.2,971.6L357.6,971.6L357.6,968.9L350.4,968.9L350.4,966.2L341.4,966.2L341.4,962.6L332.4,962.6L332.4,959.0L329.7,959.0L329.7,955.4L327.0,955.4L327.0,953.1L324.3,953.1L324.3,950.9L321.6,950.9L321.6,948.2L316.2,948.2L316.2,945.5L313.5,945.5L313.5,942.8L310.8,942.8L310.8,939.2L309.0,939.2L309.0,935.6L307.2,935.6Z" fill="rgba(226,226,226,0.3)" stroke="none"/>
<path d="M307.2,915.4L368.4,915.4L368.4,916.2L372.0,916.2L372.0,918.5L377.4,918.5L377.4,922.1L386.4,922.1L386.4,923.0L393.6,923.0L393.6,923.9L402.6,923.9L402.6,924.8L408.0,924.8L408.0,927.5L436.8,927.5L436.8,927.5L442.2,927.5L442.2,930.2L454.8,930.2L454.8,931.1L462.0,931.1L462.0,932.0L480.0,932.0L480.0,932.9L489.2,932.9L489.2,933.2L498.8,933.2L498.8,936.8L518.0,936.8L518.0,940.4L534.8,940.4L534.8,942.8L542.0,942.8L542.0,946.4L566.0,946.4L566.0,947.6L575.6,947.6L575.6,948.8L585.2,948.8L585.2,951.2L604.4,951.2L604.4,951.2L623.6,951.2L623.6,953.6L626.0,953.6L626.0,956.6L628.4,956.6L628.4,959.6L662.0,959.6L662.0,960.8L674.0,960.8L674.0,963.2L677.6,963.2L677.6,965.6L681.2,965.6L681.2,968.0L700.4,968.0L700.4,970.4L722.5,970.4L722.5,971.2L725.0,971.2L725.0,973.8L745.0,973.8L745.0,975.0L752.5,975.0L752.5,978.1L760.0,978.1L760.0,981.2L762.5,981.2L762.5,990.0L780.0,990.0L780.0,991.2L783.8,991.2L783.8,993.7L787.5,993.7L787.5,996.2L792.5,996.2L792.5,998.7L797.5,998.7L797.5,1001.2L825.0,1001.2L825.0,1002.0L827.5,1002.0L827.5,1005.0L842.5,1005.0L842.5,1005.0L844.2,1005.0L844.2,1008.3L845.8,1008.3L845.8,1011.7L847.5,1011.7L847.5,1015.0L870.0,1015.0L870.0,1015.5L872.5,1015.5L872.5,1020.0L902.5,1020.0L902.5,1020.0L905.0,1020.0L905.0,1023.8L932.5,1023.8L932.5,1024.5L935.0,1024.5L935.0,1027.8L937.5,1027.8L937.5,1031.2L939.0,1031.2L939.0,1033.8" fill="none" stroke="#7a5cff" stroke-width="2.0" stroke-dasharray="5.5,4"/>
<path d="M307.2,932.0L310.8,932.0L310.8,933.8L321.6,933.8L321.6,934.7L363.0,934.7L363.0,934.7L368.4,934.7L368.4,935.6L370.2,935.6L370.2,937.9L372.0,937.9L372.0,940.1L373.8,940.1L373.8,942.8L375.6,942.8L375.6,945.5L386.4,945.5L386.4,946.4L393.6,946.4L393.6,948.2L400.8,948.2L400.8,949.1L404.4,949.1L404.4,951.8L406.2,951.8L406.2,954.0L408.0,954.0L408.0,956.3L436.8,956.3L436.8,956.3L442.2,956.3L442.2,959.0L447.6,959.0L447.6,962.6L462.0,962.6L462.0,964.4L465.6,964.4L465.6,966.2L480.0,966.2L480.0,966.2L484.4,966.2L484.4,966.8L494.0,966.8L494.0,970.4L508.4,970.4L508.4,972.8L512.0,972.8L512.0,975.8L515.6,975.8L515.6,978.8L519.2,978.8L519.2,981.2L522.8,981.2L522.8,983.6L537.2,983.6L537.2,986.0L542.0,986.0L542.0,988.4L566.0,988.4L566.0,990.8L575.6,990.8L575.6,993.2L585.2,993.2L585.2,996.8L609.2,996.8L609.2,999.2L623.6,999.2L623.6,1001.6L626.0,1001.6L626.0,1005.2L628.4,1005.2L628.4,1008.8L638.0,1008.8L638.0,1011.2L662.0,1011.2L662.0,1012.4L666.8,1012.4L666.8,1016.0L674.0,1016.0L674.0,1017.2L676.4,1017.2L676.4,1020.2L678.8,1020.2L678.8,1023.2L700.4,1023.2L700.4,1025.6L707.8,1025.6L707.8,1028.6L715.1,1028.6L715.1,1031.5L722.5,1031.5L722.5,1034.5L745.0,1034.5L745.0,1035.0L750.0,1035.0L750.0,1037.5L755.0,1037.5L755.0,1040.0L758.8,1040.0L758.8,1043.8L762.5,1043.8L762.5,1047.5L765.0,1047.5L765.0,1060.0L780.0,1060.0L780.0,1060.5L783.8,1060.5L783.8,1062.8L787.5,1062.8L787.5,1065.0L791.2,1065.0L791.2,1068.1L795.0,1068.1L795.0,1071.2L797.5,1071.2L797.5,1075.0L825.0,1075.0L825.0,1075.5L827.5,1075.5L827.5,1080.0L845.0,1080.0L845.0,1081.8L846.8,1081.8L846.8,1089.7L848.5,1089.7L848.5,1097.5L873.0,1097.5L873.0,1099.2L874.8,1099.2L874.8,1101.8L876.5,1101.8L876.5,1104.5L901.0,1104.5L901.0,1105.2L902.8,1105.2L902.8,1108.3L904.5,1108.3L904.5,1111.5L932.5,1111.5L932.5,1112.2L934.1,1112.2L934.1,1115.5L935.8,1115.5L935.8,1118.8L937.4,1118.8L937.4,1122.2L939.0,1122.2L939.0,1125.5" fill="none" stroke="#7a5cff" stroke-width="2.0" stroke-dasharray="5.5,4"/>
<path d="M307.2,915.8L309.0,915.8L309.0,919.4L310.8,919.4L310.8,923.0L318.0,923.0L318.0,924.8L327.0,924.8L327.0,926.6L334.2,926.6L334.2,930.2L343.2,930.2L343.2,933.8L350.4,933.8L350.4,934.7L359.4,934.7L359.4,936.5L364.8,936.5L364.8,937.4L368.4,937.4L368.4,941.0L373.8,941.0L373.8,943.7L381.0,943.7L381.0,944.6L393.6,944.6L393.6,945.5L400.8,945.5L400.8,946.4L408.0,946.4L408.0,950.0L413.4,950.0L413.4,952.7L418.8,952.7L418.8,955.4L422.4,955.4L422.4,958.1L426.0,958.1L426.0,960.8L429.6,960.8L429.6,964.4L433.2,964.4L433.2,968.0L438.6,968.0L438.6,970.2L444.0,970.2L444.0,972.5L451.2,972.5L451.2,973.4L454.8,973.4L454.8,976.1L458.4,976.1L458.4,978.8L460.8,978.8L460.8,981.8L463.2,981.8L463.2,984.8L465.6,984.8L465.6,987.8L472.8,987.8L472.8,990.5L480.0,990.5L480.0,990.5L484.4,990.5L484.4,990.8L498.8,990.8L498.8,994.4L508.4,994.4L508.4,998.0L515.6,998.0L515.6,999.2L534.8,999.2L534.8,999.2L542.0,999.2L542.0,1002.8L546.8,1002.8L546.8,1005.2L551.6,1005.2L551.6,1007.6L563.6,1007.6L563.6,1008.8L567.2,1008.8L567.2,1012.4L570.8,1012.4L570.8,1016.0L575.6,1016.0L575.6,1018.4L580.4,1018.4L580.4,1020.8L587.6,1020.8L587.6,1023.8L594.8,1023.8L594.8,1026.8L600.8,1026.8L600.8,1029.8L606.8,1029.8L606.8,1032.8L610.4,1032.8L610.4,1035.8L614.0,1035.8L614.0,1038.8L616.4,1038.8L616.4,1041.8L618.8,1041.8L618.8,1044.8L662.0,1044.8L662.0,1047.2L664.4,1047.2L664.4,1050.8L666.8,1050.8L666.8,1054.4L669.2,1054.4L669.2,1057.6L671.6,1057.6L671.6,1060.8L674.0,1060.8L674.0,1064.0L680.0,1064.0L680.0,1067.6L686.0,1067.6L686.0,1071.2L690.8,1071.2L690.8,1074.8L695.6,1074.8L695.6,1078.4L698.5,1078.4L698.5,1081.0L701.5,1081.0L701.5,1083.5L705.0,1083.5L705.0,1085.2L715.5,1085.2L715.5,1087.8L726.0,1087.8L726.0,1090.5L729.5,1090.5L729.5,1094.0L733.0,1094.0L733.0,1097.5L761.0,1097.5L761.0,1099.2L763.3,1099.2L763.3,1102.4L765.7,1102.4L765.7,1105.6L768.0,1105.6L768.0,1108.8L770.3,1108.8L770.3,1112.1L772.7,1112.1L772.7,1115.3L775.0,1115.3L775.0,1118.5L778.5,1118.5L778.5,1121.2L782.0,1121.2L782.0,1123.8L806.5,1123.8L806.5,1124.8L817.0,1124.8L817.0,1129.0L820.5,1129.0L820.5,1131.6L824.0,1131.6L824.0,1134.2L873.0,1134.2L873.0,1135.3L880.0,1135.3L880.0,1137.8L894.0,1137.8L894.0,1139.5L899.2,1139.5L899.2,1142.2L904.5,1142.2L904.5,1144.8L909.8,1144.8L909.8,1147.4L915.0,1147.4L915.0,1150.0L925.5,1150.0L925.5,1153.5L939.5,1153.5L939.5,1155.2" fill="none" stroke="#3c6792" stroke-width="2.0" stroke-dasharray="5.5,4"/>
<path d="M307.2,935.6L309.0,935.6L309.0,939.2L310.8,939.2L310.8,942.8L313.5,942.8L313.5,945.5L316.2,945.5L316.2,948.2L321.6,948.2L321.6,950.9L324.3,950.9L324.3,953.1L327.0,953.1L327.0,955.4L329.7,955.4L329.7,959.0L332.4,959.0L332.4,962.6L341.4,962.6L341.4,966.2L350.4,966.2L350.4,968.9L357.6,968.9L357.6,971.6L361.2,971.6L361.2,973.9L364.8,973.9L364.8,976.1L366.6,976.1L366.6,980.2L368.4,980.2L368.4,984.2L377.4,984.2L377.4,985.1L391.8,985.1L391.8,985.1L399.0,985.1L399.0,987.8L406.2,987.8L406.2,991.4L409.2,991.4L409.2,994.4L412.2,994.4L412.2,997.4L415.2,997.4L415.2,1000.4L418.8,1000.4L418.8,1003.1L422.4,1003.1L422.4,1005.8L424.2,1005.8L424.2,1008.5L426.0,1008.5L426.0,1011.2L427.8,1011.2L427.8,1014.4L429.6,1014.4L429.6,1017.5L432.3,1017.5L432.3,1019.8L435.0,1019.8L435.0,1022.0L437.7,1022.0L437.7,1024.7L440.4,1024.7L440.4,1027.4L449.4,1027.4L449.4,1029.2L453.9,1029.2L453.9,1032.8L458.4,1032.8L458.4,1036.4L462.0,1036.4L462.0,1040.0L465.6,1040.0L465.6,1043.6L467.4,1043.6L467.4,1047.2L469.2,1047.2L469.2,1050.8L480.0,1050.8L480.0,1051.7L484.4,1051.7L484.4,1052.0L496.4,1052.0L496.4,1055.6L501.2,1055.6L501.2,1058.6L506.0,1058.6L506.0,1061.6L513.2,1061.6L513.2,1064.0L537.2,1064.0L537.2,1064.0L539.6,1064.0L539.6,1066.4L542.0,1066.4L542.0,1068.8L545.6,1068.8L545.6,1072.4L549.2,1072.4L549.2,1076.0L561.2,1076.0L561.2,1078.4L563.6,1078.4L563.6,1082.0L566.0,1082.0L566.0,1085.6L575.6,1085.6L575.6,1088.0L580.4,1088.0L580.4,1090.4L585.2,1090.4L585.2,1092.8L587.6,1092.8L587.6,1096.4L590.0,1096.4L590.0,1100.0L594.8,1100.0L594.8,1102.4L599.6,1102.4L599.6,1104.8L603.2,1104.8L603.2,1108.2L606.9,1108.2L606.9,1111.6L610.5,1111.6L610.5,1115.0L614.0,1115.0L614.0,1117.9L617.5,1117.9L617.5,1120.9L621.0,1120.9L621.0,1123.8L645.5,1123.8L645.5,1125.5L663.0,1125.5L663.0,1129.0L664.8,1129.0L664.8,1134.2L666.5,1134.2L666.5,1139.5L668.2,1139.5L668.2,1144.8L670.0,1144.8L670.0,1150.0L673.5,1150.0L673.5,1152.9L677.0,1152.9L677.0,1155.9L680.5,1155.9L680.5,1158.8L684.0,1158.8L684.0,1162.3L687.5,1162.3L687.5,1165.7L691.0,1165.7L691.0,1169.2L696.2,1169.2L696.2,1172.7L701.5,1172.7L701.5,1176.2L708.5,1176.2L708.5,1179.8L722.5,1179.8L722.5,1183.2L726.0,1183.2L726.0,1185.8L729.5,1185.8L729.5,1188.5L733.0,1188.5L733.0,1191.2L736.5,1191.2L736.5,1193.8L761.0,1193.8L761.0,1194.8L762.8,1194.8L762.8,1198.5L764.5,1198.5L764.5,1202.2L766.2,1202.2L766.2,1205.8L768.0,1205.8L768.0,1209.5L770.1,1209.5L770.1,1212.3L772.2,1212.3L772.2,1215.1L774.3,1215.1L774.3,1217.9L776.4,1217.9L776.4,1220.7L778.5,1220.7L778.5,1223.5L782.0,1223.5L782.0,1226.2L785.5,1226.2L785.5,1228.8L806.5,1228.8L806.5,1229.8L810.9,1229.8L810.9,1232.6L815.2,1232.6L815.2,1235.4L819.6,1235.4L819.6,1238.2L824.0,1238.2L824.0,1241.0L873.0,1241.0L873.0,1241.7L876.5,1241.7L876.5,1244.0L880.0,1244.0L880.0,1246.2L894.0,1246.2L894.0,1247.3L896.3,1247.3L896.3,1249.9L898.7,1249.9L898.7,1252.4L901.0,1252.4L901.0,1255.0L908.0,1255.0L908.0,1258.5L915.0,1258.5L915.0,1262.0L925.5,1262.0L925.5,1265.5L938.0,1265.5L938.0,1268.3" fill="none" stroke="#3c6792" stroke-width="2.0" stroke-dasharray="5.5,4"/>
<line x1="306.4" y1="889.0" x2="306.4" y2="1345.6" stroke="#828282" stroke-width="1.8"/>
<line x1="305.5" y1="1344.7" x2="948.0" y2="1344.7" stroke="#828282" stroke-width="1.8"/>
<line x1="300.1" y1="915.9" x2="306.4" y2="915.9" stroke="#828282" stroke-width="1.6"/>
<line x1="300.1" y1="1049.8" x2="306.4" y2="1049.8" stroke="#828282" stroke-width="1.6"/>
<line x1="300.1" y1="1183.7" x2="306.4" y2="1183.7" stroke="#828282" stroke-width="1.6"/>
<line x1="300.1" y1="1317.5" x2="306.4" y2="1317.5" stroke="#828282" stroke-width="1.6"/>
<line x1="306.4" y1="1344.7" x2="306.4" y2="1346.9" stroke="#828282" stroke-width="1.5"/>
<line x1="520.2" y1="1344.7" x2="520.2" y2="1346.9" stroke="#828282" stroke-width="1.5"/>
<line x1="734.1" y1="1344.7" x2="734.1" y2="1346.9" stroke="#828282" stroke-width="1.5"/>
<line x1="948.0" y1="1344.7" x2="948.0" y2="1346.9" stroke="#828282" stroke-width="1.5"/>
<rect x="347.8" y="1236.4" width="28.8" height="28.7" fill="#dacdfe"/>
<rect x="347.8" y="1265.1" width="29.6" height="30.5" fill="#f4f4f4"/>
<line x1="350.3" y1="1250.8" x2="374.1" y2="1250.8" stroke="#6b4dff" stroke-width="2.2"/>
<line x1="350.3" y1="1280.4" x2="374.1" y2="1280.4" stroke="#7f9ab3" stroke-width="2.1"/>
<line x1="350.3" y1="1280.4" x2="374.1" y2="1280.4" stroke="#3c6792" stroke-width="2.1" stroke-dasharray="6,2"/>
<text x="-0.31" y="807.60" font-size="34.00" fill="#111111" textLength="49.62" lengthAdjust="spacingAndGlyphs" transform="matrix(1,0,0,1.0500,0,-40.380)">(B)</text>
<text x="52.09" y="807.60" font-size="34.00" fill="#111111" textLength="100.43" lengthAdjust="spacingAndGlyphs" transform="matrix(1,0,0,1.0500,0,-40.380)">MAKE</text>
<text x="516.39" y="873.00" font-size="25.00" fill="#111111" textLength="221.48" lengthAdjust="spacingAndGlyphs">KM Curve (MAKE)</text>
<text transform="translate(220.20,1251.54) rotate(-90) scale(1,1.050)" x="0" y="0" font-size="24.40" fill="#111111" textLength="268.29" lengthAdjust="spacingAndGlyphs">Disease Free probability</text>
<text x="242.52" y="924.30" font-size="22.00" fill="#3a3a3a" textLength="56.27" lengthAdjust="spacingAndGlyphs" transform="matrix(1,0,0,1.0400,0,-36.972)">100%</text>
<text x="254.75" y="1058.20" font-size="22.00" fill="#3a3a3a" textLength="44.03" lengthAdjust="spacingAndGlyphs" transform="matrix(1,0,0,1.0400,0,-42.328)">95%</text>
<text x="254.75" y="1192.10" font-size="22.00" fill="#3a3a3a" textLength="44.03" lengthAdjust="spacingAndGlyphs" transform="matrix(1,0,0,1.0400,0,-47.684)">90%</text>
<text x="254.75" y="1325.90" font-size="22.00" fill="#3a3a3a" textLength="44.03" lengthAdjust="spacingAndGlyphs" transform="matrix(1,0,0,1.0400,0,-53.036)">85%</text>
<text x="292.15" y="1362.00" font-size="20.50" fill="#3a3a3a" textLength="28.50" lengthAdjust="spacingAndGlyphs">0.0</text>
<text x="505.98" y="1362.00" font-size="20.50" fill="#3a3a3a" textLength="28.50" lengthAdjust="spacingAndGlyphs">0.5</text>
<text x="719.47" y="1362.00" font-size="20.50" fill="#3a3a3a" textLength="28.50" lengthAdjust="spacingAndGlyphs">1.0</text>
<text x="933.40" y="1362.00" font-size="20.50" fill="#3a3a3a" textLength="28.50" lengthAdjust="spacingAndGlyphs">1.5</text>
<text x="598.71" y="1400.50" font-size="22.50" fill="#111111" textLength="57.99" lengthAdjust="spacingAndGlyphs" transform="matrix(1,0,0,1.0800,0,-112.040)">Years</text>
<text x="839.33" y="955.00" font-size="21.00" fill="#1a1a1a" textLength="81.86" lengthAdjust="spacingAndGlyphs" transform="matrix(1,0,0,1.0400,0,-38.200)">P&lt; 0.001</text>
<text x="385.31" y="1256.70" font-size="20.60" fill="#1a1a1a" textLength="97.81" lengthAdjust="spacingAndGlyphs">finerenone</text>
<text x="381.91" y="1289.30" font-size="20.60" fill="#1a1a1a" textLength="137.02" lengthAdjust="spacingAndGlyphs">spironolactone</text>
<text x="119.39" y="1427.10" font-size="21.00" fill="#111111" textLength="69.46" lengthAdjust="spacingAndGlyphs" transform="matrix(1,0,0,1.1000,0,-142.710)">MAKE</text>
<text x="198.08" y="1427.10" font-size="21.00" fill="#111111" textLength="5.83" lengthAdjust="spacingAndGlyphs">:</text>
<text x="212.21" y="1427.10" font-size="21.00" fill="#111111" textLength="321.59" lengthAdjust="spacingAndGlyphs" transform="matrix(1,0,0,1.1000,0,-142.710)">Number at risk(number event)</text>
<text x="123.61" y="1460.50" font-size="20.30" fill="#111111" textLength="98.22" lengthAdjust="spacingAndGlyphs">finerenone</text>
<text x="120.92" y="1484.00" font-size="20.30" fill="#111111" textLength="136.42" lengthAdjust="spacingAndGlyphs">spironolactone</text>
<text x="274.46" y="1464.20" font-size="20.00" fill="#111111" textLength="69.59" lengthAdjust="spacingAndGlyphs" transform="matrix(1,0,0,1.0300,0,-43.926)">1132(0)</text>
<text x="484.37" y="1464.20" font-size="20.00" fill="#111111" textLength="80.58" lengthAdjust="spacingAndGlyphs" transform="matrix(1,0,0,1.0300,0,-43.926)">1120(12)</text>
<text x="693.36" y="1464.20" font-size="20.00" fill="#111111" textLength="81.10" lengthAdjust="spacingAndGlyphs" transform="matrix(1,0,0,1.0300,0,-43.926)">1101(31)</text>
<text x="907.65" y="1464.20" font-size="20.00" fill="#111111" textLength="81.62" lengthAdjust="spacingAndGlyphs" transform="matrix(1,0,0,1.0300,0,-43.926)">1086(46)</text>
<text x="274.46" y="1486.40" font-size="20.00" fill="#111111" textLength="69.59" lengthAdjust="spacingAndGlyphs" transform="matrix(1,0,0,1.0300,0,-44.592)">1132(0)</text>
<text x="484.37" y="1486.40" font-size="20.00" fill="#111111" textLength="80.58" lengthAdjust="spacingAndGlyphs" transform="matrix(1,0,0,1.0300,0,-44.592)">1086(46)</text>
<text x="693.36" y="1486.40" font-size="20.00" fill="#111111" textLength="81.10" lengthAdjust="spacingAndGlyphs" transform="matrix(1,0,0,1.0300,0,-44.592)">1057(75)</text>
<text x="907.65" y="1486.40" font-size="20.00" fill="#111111" textLength="81.62" lengthAdjust="spacingAndGlyphs" transform="matrix(1,0,0,1.0300,0,-44.592)">1036(96)</text>
<line x1="308.9" y1="1689.8" x2="953.8" y2="1689.8" stroke="#dcdcdc" stroke-width="1.3" stroke-dasharray="4.2,4"/>
<line x1="308.9" y1="1825.6" x2="953.8" y2="1825.6" stroke="#dcdcdc" stroke-width="1.3" stroke-dasharray="4.2,4"/>
<line x1="308.9" y1="1961.4" x2="953.8" y2="1961.4" stroke="#dcdcdc" stroke-width="1.3" stroke-dasharray="4.2,4"/>
<line x1="308.9" y1="2097.1" x2="953.8" y2="2097.1" stroke="#dcdcdc" stroke-width="1.3" stroke-dasharray="4.2,4"/>
<line x1="522.5" y1="1663.0" x2="522.5" y2="2123.1" stroke="#f7f7f7" stroke-width="1"/>
<line x1="739.2" y1="1663.0" x2="739.2" y2="2123.1" stroke="#f7f7f7" stroke-width="1"/>
<line x1="305.9" y1="1663.0" x2="955.8" y2="1663.0" stroke="#a8a8a8" stroke-width="1.5"/>
<line x1="955.8" y1="1663.0" x2="955.8" y2="2123.1" stroke="#a8a8a8" stroke-width="1.3" stroke-dasharray="5,3.5"/>
<path d="M307.2,1689.9L312.6,1689.9L312.6,1691.7L354.0,1691.7L354.0,1691.7L355.8,1691.7L355.8,1694.0L379.2,1694.0L379.2,1694.4L382.8,1694.4L382.8,1697.1L393.6,1697.1L393.6,1699.8L399.0,1699.8L399.0,1703.4L445.8,1703.4L445.8,1703.8L449.4,1703.8L449.4,1706.6L465.6,1706.6L465.6,1707.0L467.4,1707.0L467.4,1708.8L482.0,1708.8L482.0,1708.7L484.4,1708.7L484.4,1711.1L501.2,1711.1L501.2,1711.6L508.4,1711.6L508.4,1715.2L544.4,1715.2L544.4,1715.9L546.8,1715.9L546.8,1720.7L556.4,1720.7L556.4,1721.2L558.8,1721.2L558.8,1723.6L566.0,1723.6L566.0,1724.8L568.4,1724.8L568.4,1727.2L609.2,1727.2L609.2,1727.9L611.6,1727.9L611.6,1730.3L626.0,1730.3L626.0,1730.8L627.6,1730.8L627.6,1733.6L629.2,1733.6L629.2,1736.4L630.8,1736.4L630.8,1739.2L645.2,1739.2L645.2,1740.4L647.6,1740.4L647.6,1742.8L659.6,1742.8L659.6,1743.3L662.0,1743.3L662.0,1746.0L664.4,1746.0L664.4,1748.8L676.4,1748.8L676.4,1750.0L681.2,1750.0L681.2,1753.6L686.0,1753.6L686.0,1754.8L688.4,1754.8L688.4,1757.8L690.8,1757.8L690.8,1760.8L698.0,1760.8L698.0,1762.0L700.4,1762.0L700.4,1763.9L747.5,1763.9L747.5,1763.8L750.0,1763.8L750.0,1767.5L767.5,1767.5L767.5,1767.5L770.0,1767.5L770.0,1771.2L787.5,1771.2L787.5,1771.2L790.0,1771.2L790.0,1775.5L796.2,1775.5L796.2,1775.5L798.8,1775.5L798.8,1783.8L857.5,1783.8L857.5,1783.8L861.2,1783.8L861.2,1788.0L872.5,1788.0L872.5,1788.0L873.8,1788.0L873.8,1793.8L883.8,1793.8L883.8,1793.8L885.0,1793.8L885.0,1799.5L897.5,1799.5L897.5,1799.5L900.0,1799.5L900.0,1804.5L947.5,1804.5L947.5,1804.5" fill="none" stroke="#7a5cff" stroke-width="2.5" stroke-linejoin="round"/>
<path d="M307.2,1689.9L309.0,1689.9L309.0,1694.0L310.8,1694.0L310.8,1698.0L316.2,1698.0L316.2,1699.4L319.8,1699.4L319.8,1703.4L325.2,1703.4L325.2,1706.1L327.0,1706.1L327.0,1711.0L328.8,1711.0L328.8,1716.0L330.6,1716.0L330.6,1719.6L332.4,1719.6L332.4,1723.2L334.2,1723.2L334.2,1725.9L336.0,1725.9L336.0,1728.6L338.7,1728.6L338.7,1731.3L341.4,1731.3L341.4,1734.0L345.0,1734.0L345.0,1735.8L346.8,1735.8L346.8,1739.4L348.6,1739.4L348.6,1743.0L350.4,1743.0L350.4,1745.7L352.2,1745.7L352.2,1748.4L357.6,1748.4L357.6,1750.2L359.4,1750.2L359.4,1752.9L361.2,1752.9L361.2,1755.6L363.0,1755.6L363.0,1759.2L364.8,1759.2L364.8,1762.8L366.6,1762.8L366.6,1765.5L368.4,1765.5L368.4,1768.2L371.1,1768.2L371.1,1771.8L373.8,1771.8L373.8,1775.4L382.8,1775.4L382.8,1777.2L386.4,1777.2L386.4,1779.0L402.6,1779.0L402.6,1779.0L404.4,1779.0L404.4,1784.4L409.8,1784.4L409.8,1786.2L412.5,1786.2L412.5,1788.9L415.2,1788.9L415.2,1791.6L418.8,1791.6L418.8,1795.2L422.4,1795.2L422.4,1798.8L426.0,1798.8L426.0,1801.5L429.6,1801.5L429.6,1804.2L435.0,1804.2L435.0,1806.0L436.8,1806.0L436.8,1809.6L438.6,1809.6L438.6,1813.2L444.0,1813.2L444.0,1816.8L451.2,1816.8L451.2,1819.5L454.8,1819.5L454.8,1820.4L456.6,1820.4L456.6,1824.0L463.8,1824.0L463.8,1827.6L465.9,1827.6L465.9,1830.1L467.9,1830.1L467.9,1832.7L470.0,1832.7L470.0,1835.2L477.2,1835.2L477.2,1838.8L496.4,1838.8L496.4,1840.0L498.8,1840.0L498.8,1843.6L501.2,1843.6L501.2,1847.2L508.4,1847.2L508.4,1848.4L510.0,1848.4L510.0,1851.2L511.6,1851.2L511.6,1854.0L513.2,1854.0L513.2,1856.8L518.0,1856.8L518.0,1860.4L525.2,1860.4L525.2,1862.8L532.4,1862.8L532.4,1866.4L542.0,1866.4L542.0,1867.6L549.2,1867.6L549.2,1870.0L550.8,1870.0L550.8,1873.2L552.4,1873.2L552.4,1876.4L554.0,1876.4L554.0,1879.6L561.2,1879.6L561.2,1882.0L570.8,1882.0L570.8,1884.4L599.6,1884.4L599.6,1885.6L606.8,1885.6L606.8,1888.0L614.0,1888.0L614.0,1889.2L615.8,1889.2L615.8,1895.0L635.0,1895.0L635.0,1895.0L636.8,1895.0L636.8,1897.8L663.0,1897.8L663.0,1897.8L664.7,1897.8L664.7,1900.9L666.5,1900.9L666.5,1904.1L668.2,1904.1L668.2,1907.2L680.5,1907.2L680.5,1907.2L683.1,1907.2L683.1,1909.8L685.8,1909.8L685.8,1912.5L687.5,1912.5L687.5,1916.3L689.2,1916.3L689.2,1920.2L703.2,1920.2L703.2,1921.2L706.8,1921.2L706.8,1924.8L712.0,1924.8L712.0,1927.2L724.2,1927.2L724.2,1927.2L726.0,1927.2L726.0,1930.7L733.0,1930.7L733.0,1933.5L754.0,1933.5L754.0,1933.5L755.8,1933.5L755.8,1936.2L757.5,1936.2L757.5,1938.8L764.5,1938.8L764.5,1941.2L776.8,1941.2L776.8,1944.0L778.5,1944.0L778.5,1947.8L780.2,1947.8L780.2,1951.7L817.0,1951.7L817.0,1951.7L820.5,1951.7L820.5,1954.5L831.0,1954.5L831.0,1955.2L832.8,1955.2L832.8,1957.5L834.5,1957.5L834.5,1959.8L841.5,1959.8L841.5,1963.2L845.0,1963.2L845.0,1966.8L848.5,1966.8L848.5,1969.4L852.0,1969.4L852.0,1972.0L855.5,1972.0L855.5,1974.6L859.0,1974.6L859.0,1977.2L862.5,1977.2L862.5,1979.5L866.0,1979.5L866.0,1981.8L873.0,1981.8L873.0,1983.2L880.0,1983.2L880.0,1986.7L883.5,1986.7L883.5,1990.2L897.5,1990.2L897.5,1990.2L899.2,1990.2L899.2,1992.5L901.0,1992.5L901.0,1994.8L906.2,1994.8L906.2,1999.0L925.5,1999.0L925.5,1999.0L927.2,1999.0L927.2,2001.2L929.0,2001.2L929.0,2003.5L937.8,2003.5L937.8,2004.2L939.5,2004.2L939.5,2007.7L947.5,2007.7L947.5,2007.7" fill="none" stroke="#3c6792" stroke-width="2.5" stroke-linejoin="round"/>
<path d="M307.2,1689.9L382.8,1689.9L382.8,1690.4L386.4,1690.4L386.4,1692.6L393.6,1692.6L393.6,1695.3L400.8,1695.3L400.8,1696.6L444.0,1696.6L444.0,1696.6L449.4,1696.6L449.4,1698.0L465.6,1698.0L465.6,1698.9L469.2,1698.9L469.2,1699.8L479.6,1699.8L479.6,1700.1L503.6,1700.1L503.6,1702.0L508.4,1702.0L508.4,1704.9L542.0,1704.9L542.0,1705.6L549.2,1705.6L549.2,1708.0L566.0,1708.0L566.0,1711.6L609.2,1711.6L609.2,1712.8L614.0,1712.8L614.0,1714.0L626.0,1714.0L626.0,1715.2L628.4,1715.2L628.4,1718.2L630.8,1718.2L630.8,1721.2L645.2,1721.2L645.2,1722.4L647.6,1722.4L647.6,1723.6L662.0,1723.6L662.0,1724.8L664.4,1724.8L664.4,1728.4L676.4,1728.4L676.4,1729.6L681.2,1729.6L681.2,1733.2L686.0,1733.2L686.0,1735.6L698.0,1735.6L698.0,1739.2L700.5,1739.2L700.5,1740.0L745.0,1740.0L745.0,1740.0L750.0,1740.0L750.0,1742.5L767.5,1742.5L767.5,1745.0L772.5,1745.0L772.5,1746.2L785.0,1746.2L785.0,1747.0L790.0,1747.0L790.0,1748.8L797.5,1748.8L797.5,1751.2L800.0,1751.2L800.0,1756.2L857.5,1756.2L857.5,1756.2L862.5,1756.2L862.5,1759.5L872.5,1759.5L872.5,1760.0L875.0,1760.0L875.0,1763.8L885.0,1763.8L885.0,1764.5L897.5,1764.5L897.5,1767.5L900.0,1767.5L900.0,1772.0L947.5,1772.0L947.5,1772.0L947.5,1850.0L947.5,1850.0L900.0,1850.0L900.0,1843.8L897.5,1843.8L897.5,1842.5L887.5,1842.5L887.5,1837.5L885.0,1837.5L885.0,1836.2L875.0,1836.2L875.0,1831.2L872.5,1831.2L872.5,1830.0L862.5,1830.0L862.5,1827.2L860.0,1827.2L860.0,1824.5L857.5,1824.5L857.5,1824.5L800.0,1824.5L800.0,1819.2L798.1,1819.2L798.1,1813.8L796.2,1813.8L796.2,1813.0L790.0,1813.0L790.0,1810.5L787.5,1810.5L787.5,1808.0L785.0,1808.0L785.0,1807.5L772.5,1807.5L772.5,1805.2L770.0,1805.2L770.0,1803.0L767.5,1803.0L767.5,1802.5L752.5,1802.5L752.5,1800.2L750.0,1800.2L750.0,1798.0L747.5,1798.0L747.5,1798.0L700.4,1798.0L700.4,1795.6L695.6,1795.6L695.6,1793.2L690.8,1793.2L690.8,1790.2L688.4,1790.2L688.4,1787.2L686.0,1787.2L686.0,1784.8L681.2,1784.8L681.2,1781.2L676.4,1781.2L676.4,1780.0L662.0,1780.0L662.0,1776.4L659.6,1776.4L659.6,1772.8L657.2,1772.8L657.2,1769.2L647.6,1769.2L647.6,1766.8L630.8,1766.8L630.8,1763.6L629.2,1763.6L629.2,1760.4L627.6,1760.4L627.6,1757.2L626.0,1757.2L626.0,1756.0L614.0,1756.0L614.0,1752.9L609.2,1752.9L609.2,1752.9L573.2,1752.9L573.2,1751.2L566.0,1751.2L566.0,1748.8L561.2,1748.8L561.2,1746.4L556.4,1746.4L556.4,1744.0L546.8,1744.0L546.8,1740.8L544.4,1740.8L544.4,1737.5L542.0,1737.5L542.0,1736.8L508.4,1736.8L508.4,1734.0L504.8,1734.0L504.8,1731.3L501.2,1731.3L501.2,1730.8L486.8,1730.8L486.8,1728.4L482.0,1728.4L482.0,1727.7L467.4,1727.7L467.4,1725.0L465.6,1725.0L465.6,1724.1L449.4,1724.1L449.4,1721.0L444.0,1721.0L444.0,1720.5L399.0,1720.5L399.0,1717.8L393.6,1717.8L393.6,1714.2L390.0,1714.2L390.0,1711.5L384.6,1711.5L384.6,1708.8L379.2,1708.8L379.2,1707.9L357.6,1707.9L357.6,1707.0L323.4,1707.0L323.4,1707.0L307.2,1707.0Z" fill="rgba(130,88,255,0.3)" stroke="none"/>
<path d="M307.2,1689.9L314.4,1689.9L314.4,1691.7L321.6,1691.7L321.6,1694.4L324.3,1694.4L324.3,1697.1L327.0,1697.1L327.0,1699.8L328.8,1699.8L328.8,1702.8L330.6,1702.8L330.6,1705.8L332.4,1705.8L332.4,1708.8L334.2,1708.8L334.2,1711.0L336.0,1711.0L336.0,1713.3L339.6,1713.3L339.6,1715.5L343.2,1715.5L343.2,1717.8L346.8,1717.8L346.8,1721.4L349.5,1721.4L349.5,1724.1L352.2,1724.1L352.2,1726.8L354.9,1726.8L354.9,1729.5L357.6,1729.5L357.6,1732.2L359.4,1732.2L359.4,1735.2L361.2,1735.2L361.2,1738.2L363.0,1738.2L363.0,1741.2L365.7,1741.2L365.7,1744.8L368.4,1744.8L368.4,1748.4L375.6,1748.4L375.6,1752.0L386.4,1752.0L386.4,1754.7L400.8,1754.7L400.8,1755.6L408.0,1755.6L408.0,1759.2L411.6,1759.2L411.6,1761.5L415.2,1761.5L415.2,1763.7L418.8,1763.7L418.8,1766.8L422.4,1766.8L422.4,1770.0L429.6,1770.0L429.6,1773.6L432.3,1773.6L432.3,1776.3L435.0,1776.3L435.0,1779.0L437.7,1779.0L437.7,1782.6L440.4,1782.6L440.4,1786.2L449.4,1786.2L449.4,1788.9L453.9,1788.9L453.9,1791.2L458.4,1791.2L458.4,1793.4L461.1,1793.4L461.1,1796.1L463.8,1796.1L463.8,1798.8L466.5,1798.8L466.5,1801.5L469.2,1801.5L469.2,1804.2L476.4,1804.2L476.4,1806.0L494.0,1806.0L494.0,1807.6L496.4,1807.6L496.4,1810.6L498.8,1810.6L498.8,1813.6L508.4,1813.6L508.4,1814.8L510.8,1814.8L510.8,1817.8L513.2,1817.8L513.2,1820.8L515.6,1820.8L515.6,1823.2L518.0,1823.2L518.0,1825.6L525.2,1825.6L525.2,1828.0L534.8,1828.0L534.8,1829.2L540.8,1829.2L540.8,1831.6L546.8,1831.6L546.8,1834.0L549.2,1834.0L549.2,1837.0L551.6,1837.0L551.6,1840.0L558.8,1840.0L558.8,1843.6L570.8,1843.6L570.8,1846.0L599.6,1846.0L599.6,1848.4L611.6,1848.4L611.6,1852.0L616.4,1852.0L616.4,1855.6L638.0,1855.6L638.0,1856.8L662.0,1856.8L662.0,1859.2L664.4,1859.2L664.4,1862.2L666.8,1862.2L666.8,1865.2L678.8,1865.2L678.8,1867.6L682.4,1867.6L682.4,1870.0L686.0,1870.0L686.0,1872.4L688.4,1872.4L688.4,1874.8L690.8,1874.8L690.8,1877.2L700.0,1877.2L700.0,1878.8L712.5,1878.8L712.5,1882.5L725.0,1882.5L725.0,1885.0L728.8,1885.0L728.8,1887.5L732.5,1887.5L732.5,1890.0L752.5,1890.0L752.5,1891.2L757.5,1891.2L757.5,1895.0L766.2,1895.0L766.2,1897.5L775.0,1897.5L775.0,1900.0L778.8,1900.0L778.8,1903.1L782.5,1903.1L782.5,1906.2L815.0,1906.2L815.0,1906.2L822.5,1906.2L822.5,1908.8L832.5,1908.8L832.5,1910.0L836.2,1910.0L836.2,1912.5L840.0,1912.5L840.0,1915.0L842.5,1915.0L842.5,1917.5L845.0,1917.5L845.0,1920.0L848.5,1920.0L848.5,1922.3L859.0,1922.3L859.0,1926.5L862.5,1926.5L862.5,1929.2L866.0,1929.2L866.0,1931.8L871.2,1931.8L871.2,1934.4L876.5,1934.4L876.5,1937.0L890.5,1937.0L890.5,1939.8L901.0,1939.8L901.0,1944.0L908.0,1944.0L908.0,1947.5L925.5,1947.5L925.5,1947.5L929.0,1947.5L929.0,1951.7L947.5,1951.7L947.5,1955.2L947.5,2070.0L947.5,2067.4L938.2,2067.4L938.2,2064.8L929.0,2064.8L929.0,2062.5L927.2,2062.5L927.2,2060.2L925.5,2060.2L925.5,2059.5L908.0,2059.5L908.0,2056.0L901.0,2056.0L901.0,2053.4L895.8,2053.4L895.8,2050.8L890.5,2050.8L890.5,2048.2L885.2,2048.2L885.2,2045.5L880.0,2045.5L880.0,2042.0L873.0,2042.0L873.0,2038.5L866.0,2038.5L866.0,2035.0L860.8,2035.0L860.8,2031.5L855.5,2031.5L855.5,2028.9L852.9,2028.9L852.9,2026.2L850.2,2026.2L850.2,2023.6L847.6,2023.6L847.6,2021.0L845.0,2021.0L845.0,2018.1L841.5,2018.1L841.5,2015.1L838.0,2015.1L838.0,2012.2L834.5,2012.2L834.5,2010.5L824.0,2010.5L824.0,2006.3L817.0,2006.3L817.0,2006.3L782.0,2006.3L782.0,2003.6L779.7,2003.6L779.7,2000.9L777.3,2000.9L777.3,1998.2L775.0,1998.2L775.0,1995.6L768.0,1995.6L768.0,1993.0L761.0,1993.0L761.0,1989.5L757.5,1989.5L757.5,1986.0L754.0,1986.0L754.0,1984.2L733.0,1984.2L733.0,1981.6L724.2,1981.6L724.2,1979.0L715.5,1979.0L715.5,1975.8L710.2,1975.8L710.2,1972.7L705.0,1972.7L705.0,1971.3L691.0,1971.3L691.0,1968.4L688.4,1968.4L688.4,1965.5L685.8,1965.5L685.8,1962.7L683.1,1962.7L683.1,1959.8L680.5,1959.8L680.5,1956.2L668.2,1956.2L668.2,1953.3L666.5,1953.3L666.5,1950.4L664.7,1950.4L664.7,1947.5L663.0,1947.5L663.0,1946.8L642.0,1946.8L642.0,1944.0L635.0,1944.0L635.0,1943.3L617.5,1943.3L617.5,1940.2L615.8,1940.2L615.8,1937.0L614.0,1937.0L614.0,1933.5L600.0,1933.5L600.0,1933.0L571.2,1933.0L571.2,1930.0L561.6,1930.0L561.6,1927.0L553.2,1927.0L553.2,1922.5L551.4,1922.5L551.4,1918.0L549.6,1918.0L549.6,1915.5L545.5,1915.5L545.5,1913.0L541.4,1913.0L541.4,1909.6L531.2,1909.6L531.2,1906.2L524.4,1906.2L524.4,1902.8L517.6,1902.8L517.6,1899.4L514.2,1899.4L514.2,1896.0L510.8,1896.0L510.8,1892.6L505.7,1892.6L505.7,1889.2L500.6,1889.2L500.6,1885.6L497.3,1885.6L497.3,1882.0L494.0,1882.0L494.0,1879.6L470.0,1879.6L470.0,1876.6L467.7,1876.6L467.7,1873.5L465.5,1873.5L465.5,1870.5L463.2,1870.5L463.2,1867.1L459.8,1867.1L459.8,1863.7L456.4,1863.7L456.4,1860.3L453.0,1860.3L453.0,1857.5L448.5,1857.5L448.5,1854.6L443.9,1854.6L443.9,1851.8L439.4,1851.8L439.4,1848.4L436.0,1848.4L436.0,1845.0L432.6,1845.0L432.6,1841.9L429.8,1841.9L429.8,1838.8L427.1,1838.8L427.1,1835.6L424.3,1835.6L424.3,1832.5L421.6,1832.5L421.6,1829.4L418.8,1829.4L418.8,1825.8L415.2,1825.8L415.2,1823.1L413.4,1823.1L413.4,1820.4L411.6,1820.4L411.6,1818.6L406.2,1818.6L406.2,1816.3L404.4,1816.3L404.4,1814.1L402.6,1814.1L402.6,1813.2L393.6,1813.2L393.6,1811.4L379.2,1811.4L379.2,1807.8L372.0,1807.8L372.0,1805.1L370.2,1805.1L370.2,1802.4L368.4,1802.4L368.4,1799.7L366.6,1799.7L366.6,1797.0L364.8,1797.0L364.8,1793.4L363.0,1793.4L363.0,1789.8L361.2,1789.8L361.2,1787.1L359.4,1787.1L359.4,1784.4L357.6,1784.4L357.6,1781.7L355.8,1781.7L355.8,1779.0L354.0,1779.0L354.0,1776.3L352.2,1776.3L352.2,1773.6L350.4,1773.6L350.4,1770.9L348.6,1770.9L348.6,1768.2L346.8,1768.2L346.8,1764.6L345.0,1764.6L345.0,1761.0L343.2,1761.0L343.2,1758.3L340.5,1758.3L340.5,1755.6L337.8,1755.6L337.8,1752.9L336.0,1752.9L336.0,1750.2L334.2,1750.2L334.2,1746.6L332.4,1746.6L332.4,1743.0L330.6,1743.0L330.6,1739.4L328.8,1739.4L328.8,1735.8L327.0,1735.8L327.0,1732.2L325.2,1732.2L325.2,1728.6L323.4,1728.6L323.4,1725.0L320.7,1725.0L320.7,1721.4L318.0,1721.4L318.0,1715.1L316.2,1715.1L316.2,1714.2L310.8,1714.2L310.8,1710.6L309.0,1710.6L309.0,1707.0L307.2,1707.0Z" fill="rgba(226,226,226,0.3)" stroke="none"/>
<path d="M307.2,1689.9L382.8,1689.9L382.8,1690.4L386.4,1690.4L386.4,1692.6L393.6,1692.6L393.6,1695.3L400.8,1695.3L400.8,1696.6L444.0,1696.6L444.0,1696.6L449.4,1696.6L449.4,1698.0L465.6,1698.0L465.6,1698.9L469.2,1698.9L469.2,1699.8L479.6,1699.8L479.6,1700.1L503.6,1700.1L503.6,1702.0L508.4,1702.0L508.4,1704.9L542.0,1704.9L542.0,1705.6L549.2,1705.6L549.2,1708.0L566.0,1708.0L566.0,1711.6L609.2,1711.6L609.2,1712.8L614.0,1712.8L614.0,1714.0L626.0,1714.0L626.0,1715.2L628.4,1715.2L628.4,1718.2L630.8,1718.2L630.8,1721.2L645.2,1721.2L645.2,1722.4L647.6,1722.4L647.6,1723.6L662.0,1723.6L662.0,1724.8L664.4,1724.8L664.4,1728.4L676.4,1728.4L676.4,1729.6L681.2,1729.6L681.2,1733.2L686.0,1733.2L686.0,1735.6L698.0,1735.6L698.0,1739.2L700.5,1739.2L700.5,1740.0L745.0,1740.0L745.0,1740.0L750.0,1740.0L750.0,1742.5L767.5,1742.5L767.5,1745.0L772.5,1745.0L772.5,1746.2L785.0,1746.2L785.0,1747.0L790.0,1747.0L790.0,1748.8L797.5,1748.8L797.5,1751.2L800.0,1751.2L800.0,1756.2L857.5,1756.2L857.5,1756.2L862.5,1756.2L862.5,1759.5L872.5,1759.5L872.5,1760.0L875.0,1760.0L875.0,1763.8L885.0,1763.8L885.0,1764.5L897.5,1764.5L897.5,1767.5L900.0,1767.5L900.0,1772.0L947.5,1772.0L947.5,1772.0" fill="none" stroke="#7a5cff" stroke-width="2.0" stroke-dasharray="5.5,4"/>
<path d="M307.2,1707.0L323.4,1707.0L323.4,1707.0L357.6,1707.0L357.6,1707.9L379.2,1707.9L379.2,1708.8L384.6,1708.8L384.6,1711.5L390.0,1711.5L390.0,1714.2L393.6,1714.2L393.6,1717.8L399.0,1717.8L399.0,1720.5L444.0,1720.5L444.0,1721.0L449.4,1721.0L449.4,1724.1L465.6,1724.1L465.6,1725.0L467.4,1725.0L467.4,1727.7L482.0,1727.7L482.0,1728.4L486.8,1728.4L486.8,1730.8L501.2,1730.8L501.2,1731.3L504.8,1731.3L504.8,1734.0L508.4,1734.0L508.4,1736.8L542.0,1736.8L542.0,1737.5L544.4,1737.5L544.4,1740.8L546.8,1740.8L546.8,1744.0L556.4,1744.0L556.4,1746.4L561.2,1746.4L561.2,1748.8L566.0,1748.8L566.0,1751.2L573.2,1751.2L573.2,1752.9L609.2,1752.9L609.2,1752.9L614.0,1752.9L614.0,1756.0L626.0,1756.0L626.0,1757.2L627.6,1757.2L627.6,1760.4L629.2,1760.4L629.2,1763.6L630.8,1763.6L630.8,1766.8L647.6,1766.8L647.6,1769.2L657.2,1769.2L657.2,1772.8L659.6,1772.8L659.6,1776.4L662.0,1776.4L662.0,1780.0L676.4,1780.0L676.4,1781.2L681.2,1781.2L681.2,1784.8L686.0,1784.8L686.0,1787.2L688.4,1787.2L688.4,1790.2L690.8,1790.2L690.8,1793.2L695.6,1793.2L695.6,1795.6L700.4,1795.6L700.4,1798.0L747.5,1798.0L747.5,1798.0L750.0,1798.0L750.0,1800.2L752.5,1800.2L752.5,1802.5L767.5,1802.5L767.5,1803.0L770.0,1803.0L770.0,1805.2L772.5,1805.2L772.5,1807.5L785.0,1807.5L785.0,1808.0L787.5,1808.0L787.5,1810.5L790.0,1810.5L790.0,1813.0L796.2,1813.0L796.2,1813.8L798.1,1813.8L798.1,1819.2L800.0,1819.2L800.0,1824.5L857.5,1824.5L857.5,1824.5L860.0,1824.5L860.0,1827.2L862.5,1827.2L862.5,1830.0L872.5,1830.0L872.5,1831.2L875.0,1831.2L875.0,1836.2L885.0,1836.2L885.0,1837.5L887.5,1837.5L887.5,1842.5L897.5,1842.5L897.5,1843.8L900.0,1843.8L900.0,1850.0L947.5,1850.0L947.5,1850.0" fill="none" stroke="#7a5cff" stroke-width="2.0" stroke-dasharray="5.5,4"/>
<path d="M307.2,1689.9L314.4,1689.9L314.4,1691.7L321.6,1691.7L321.6,1694.4L324.3,1694.4L324.3,1697.1L327.0,1697.1L327.0,1699.8L328.8,1699.8L328.8,1702.8L330.6,1702.8L330.6,1705.8L332.4,1705.8L332.4,1708.8L334.2,1708.8L334.2,1711.0L336.0,1711.0L336.0,1713.3L339.6,1713.3L339.6,1715.5L343.2,1715.5L343.2,1717.8L346.8,1717.8L346.8,1721.4L349.5,1721.4L349.5,1724.1L352.2,1724.1L352.2,1726.8L354.9,1726.8L354.9,1729.5L357.6,1729.5L357.6,1732.2L359.4,1732.2L359.4,1735.2L361.2,1735.2L361.2,1738.2L363.0,1738.2L363.0,1741.2L365.7,1741.2L365.7,1744.8L368.4,1744.8L368.4,1748.4L375.6,1748.4L375.6,1752.0L386.4,1752.0L386.4,1754.7L400.8,1754.7L400.8,1755.6L408.0,1755.6L408.0,1759.2L411.6,1759.2L411.6,1761.5L415.2,1761.5L415.2,1763.7L418.8,1763.7L418.8,1766.8L422.4,1766.8L422.4,1770.0L429.6,1770.0L429.6,1773.6L432.3,1773.6L432.3,1776.3L435.0,1776.3L435.0,1779.0L437.7,1779.0L437.7,1782.6L440.4,1782.6L440.4,1786.2L449.4,1786.2L449.4,1788.9L453.9,1788.9L453.9,1791.2L458.4,1791.2L458.4,1793.4L461.1,1793.4L461.1,1796.1L463.8,1796.1L463.8,1798.8L466.5,1798.8L466.5,1801.5L469.2,1801.5L469.2,1804.2L476.4,1804.2L476.4,1806.0L494.0,1806.0L494.0,1807.6L496.4,1807.6L496.4,1810.6L498.8,1810.6L498.8,1813.6L508.4,1813.6L508.4,1814.8L510.8,1814.8L510.8,1817.8L513.2,1817.8L513.2,1820.8L515.6,1820.8L515.6,1823.2L518.0,1823.2L518.0,1825.6L525.2,1825.6L525.2,1828.0L534.8,1828.0L534.8,1829.2L540.8,1829.2L540.8,1831.6L546.8,1831.6L546.8,1834.0L549.2,1834.0L549.2,1837.0L551.6,1837.0L551.6,1840.0L558.8,1840.0L558.8,1843.6L570.8,1843.6L570.8,1846.0L599.6,1846.0L599.6,1848.4L611.6,1848.4L611.6,1852.0L616.4,1852.0L616.4,1855.6L638.0,1855.6L638.0,1856.8L662.0,1856.8L662.0,1859.2L664.4,1859.2L664.4,1862.2L666.8,1862.2L666.8,1865.2L678.8,1865.2L678.8,1867.6L682.4,1867.6L682.4,1870.0L686.0,1870.0L686.0,1872.4L688.4,1872.4L688.4,1874.8L690.8,1874.8L690.8,1877.2L700.0,1877.2L700.0,1878.8L712.5,1878.8L712.5,1882.5L725.0,1882.5L725.0,1885.0L728.8,1885.0L728.8,1887.5L732.5,1887.5L732.5,1890.0L752.5,1890.0L752.5,1891.2L757.5,1891.2L757.5,1895.0L766.2,1895.0L766.2,1897.5L775.0,1897.5L775.0,1900.0L778.8,1900.0L778.8,1903.1L782.5,1903.1L782.5,1906.2L815.0,1906.2L815.0,1906.2L822.5,1906.2L822.5,1908.8L832.5,1908.8L832.5,1910.0L836.2,1910.0L836.2,1912.5L840.0,1912.5L840.0,1915.0L842.5,1915.0L842.5,1917.5L845.0,1917.5L845.0,1920.0L848.5,1920.0L848.5,1922.3L859.0,1922.3L859.0,1926.5L862.5,1926.5L862.5,1929.2L866.0,1929.2L866.0,1931.8L871.2,1931.8L871.2,1934.4L876.5,1934.4L876.5,1937.0L890.5,1937.0L890.5,1939.8L901.0,1939.8L901.0,1944.0L908.0,1944.0L908.0,1947.5L925.5,1947.5L925.5,1947.5L929.0,1947.5L929.0,1951.7L947.5,1951.7L947.5,1955.2" fill="none" stroke="#3c6792" stroke-width="2.0" stroke-dasharray="5.5,4"/>
<path d="M307.2,1707.0L309.0,1707.0L309.0,1710.6L310.8,1710.6L310.8,1714.2L316.2,1714.2L316.2,1715.1L318.0,1715.1L318.0,1721.4L320.7,1721.4L320.7,1725.0L323.4,1725.0L323.4,1728.6L325.2,1728.6L325.2,1732.2L327.0,1732.2L327.0,1735.8L328.8,1735.8L328.8,1739.4L330.6,1739.4L330.6,1743.0L332.4,1743.0L332.4,1746.6L334.2,1746.6L334.2,1750.2L336.0,1750.2L336.0,1752.9L337.8,1752.9L337.8,1755.6L340.5,1755.6L340.5,1758.3L343.2,1758.3L343.2,1761.0L345.0,1761.0L345.0,1764.6L346.8,1764.6L346.8,1768.2L348.6,1768.2L348.6,1770.9L350.4,1770.9L350.4,1773.6L352.2,1773.6L352.2,1776.3L354.0,1776.3L354.0,1779.0L355.8,1779.0L355.8,1781.7L357.6,1781.7L357.6,1784.4L359.4,1784.4L359.4,1787.1L361.2,1787.1L361.2,1789.8L363.0,1789.8L363.0,1793.4L364.8,1793.4L364.8,1797.0L366.6,1797.0L366.6,1799.7L368.4,1799.7L368.4,1802.4L370.2,1802.4L370.2,1805.1L372.0,1805.1L372.0,1807.8L379.2,1807.8L379.2,1811.4L393.6,1811.4L393.6,1813.2L402.6,1813.2L402.6,1814.1L404.4,1814.1L404.4,1816.3L406.2,1816.3L406.2,1818.6L411.6,1818.6L411.6,1820.4L413.4,1820.4L413.4,1823.1L415.2,1823.1L415.2,1825.8L418.8,1825.8L418.8,1829.4L421.6,1829.4L421.6,1832.5L424.3,1832.5L424.3,1835.6L427.1,1835.6L427.1,1838.8L429.8,1838.8L429.8,1841.9L432.6,1841.9L432.6,1845.0L436.0,1845.0L436.0,1848.4L439.4,1848.4L439.4,1851.8L443.9,1851.8L443.9,1854.6L448.5,1854.6L448.5,1857.5L453.0,1857.5L453.0,1860.3L456.4,1860.3L456.4,1863.7L459.8,1863.7L459.8,1867.1L463.2,1867.1L463.2,1870.5L465.5,1870.5L465.5,1873.5L467.7,1873.5L467.7,1876.6L470.0,1876.6L470.0,1879.6L494.0,1879.6L494.0,1882.0L497.3,1882.0L497.3,1885.6L500.6,1885.6L500.6,1889.2L505.7,1889.2L505.7,1892.6L510.8,1892.6L510.8,1896.0L514.2,1896.0L514.2,1899.4L517.6,1899.4L517.6,1902.8L524.4,1902.8L524.4,1906.2L531.2,1906.2L531.2,1909.6L541.4,1909.6L541.4,1913.0L545.5,1913.0L545.5,1915.5L549.6,1915.5L549.6,1918.0L551.4,1918.0L551.4,1922.5L553.2,1922.5L553.2,1927.0L561.6,1927.0L561.6,1930.0L571.2,1930.0L571.2,1933.0L600.0,1933.0L600.0,1933.5L614.0,1933.5L614.0,1937.0L615.8,1937.0L615.8,1940.2L617.5,1940.2L617.5,1943.3L635.0,1943.3L635.0,1944.0L642.0,1944.0L642.0,1946.8L663.0,1946.8L663.0,1947.5L664.7,1947.5L664.7,1950.4L666.5,1950.4L666.5,1953.3L668.2,1953.3L668.2,1956.2L680.5,1956.2L680.5,1959.8L683.1,1959.8L683.1,1962.7L685.8,1962.7L685.8,1965.5L688.4,1965.5L688.4,1968.4L691.0,1968.4L691.0,1971.3L705.0,1971.3L705.0,1972.7L710.2,1972.7L710.2,1975.8L715.5,1975.8L715.5,1979.0L724.2,1979.0L724.2,1981.6L733.0,1981.6L733.0,1984.2L754.0,1984.2L754.0,1986.0L757.5,1986.0L757.5,1989.5L761.0,1989.5L761.0,1993.0L768.0,1993.0L768.0,1995.6L775.0,1995.6L775.0,1998.2L777.3,1998.2L777.3,2000.9L779.7,2000.9L779.7,2003.6L782.0,2003.6L782.0,2006.3L817.0,2006.3L817.0,2006.3L824.0,2006.3L824.0,2010.5L834.5,2010.5L834.5,2012.2L838.0,2012.2L838.0,2015.1L841.5,2015.1L841.5,2018.1L845.0,2018.1L845.0,2021.0L847.6,2021.0L847.6,2023.6L850.2,2023.6L850.2,2026.2L852.9,2026.2L852.9,2028.9L855.5,2028.9L855.5,2031.5L860.8,2031.5L860.8,2035.0L866.0,2035.0L866.0,2038.5L873.0,2038.5L873.0,2042.0L880.0,2042.0L880.0,2045.5L885.2,2045.5L885.2,2048.2L890.5,2048.2L890.5,2050.8L895.8,2050.8L895.8,2053.4L901.0,2053.4L901.0,2056.0L908.0,2056.0L908.0,2059.5L925.5,2059.5L925.5,2060.2L927.2,2060.2L927.2,2062.5L929.0,2062.5L929.0,2064.8L938.2,2064.8L938.2,2067.4L947.5,2067.4L947.5,2070.0" fill="none" stroke="#3c6792" stroke-width="2.0" stroke-dasharray="5.5,4"/>
<line x1="305.9" y1="1662.5" x2="305.9" y2="2124.0" stroke="#828282" stroke-width="1.8"/>
<line x1="305.0" y1="2123.1" x2="955.8" y2="2123.1" stroke="#828282" stroke-width="1.8"/>
<line x1="299.2" y1="1689.8" x2="305.9" y2="1689.8" stroke="#828282" stroke-width="1.6"/>
<line x1="299.2" y1="1825.6" x2="305.9" y2="1825.6" stroke="#828282" stroke-width="1.6"/>
<line x1="299.2" y1="1961.4" x2="305.9" y2="1961.4" stroke="#828282" stroke-width="1.6"/>
<line x1="299.2" y1="2097.1" x2="305.9" y2="2097.1" stroke="#828282" stroke-width="1.6"/>
<line x1="305.9" y1="2123.1" x2="305.9" y2="2125.3" stroke="#828282" stroke-width="1.5"/>
<line x1="522.5" y1="2123.1" x2="522.5" y2="2125.3" stroke="#828282" stroke-width="1.5"/>
<line x1="739.2" y1="2123.1" x2="739.2" y2="2125.3" stroke="#828282" stroke-width="1.5"/>
<line x1="955.8" y1="2123.1" x2="955.8" y2="2125.3" stroke="#828282" stroke-width="1.5"/>
<rect x="347.2" y="2014.3" width="30.0" height="29.4" fill="#dacdfe"/>
<rect x="347.2" y="2043.7" width="30.8" height="31.1" fill="#f4f4f4"/>
<line x1="349.7" y1="2029.0" x2="374.7" y2="2029.0" stroke="#6b4dff" stroke-width="2.2"/>
<line x1="349.7" y1="2059.2" x2="374.7" y2="2059.2" stroke="#7f9ab3" stroke-width="2.1"/>
<line x1="349.7" y1="2059.2" x2="374.7" y2="2059.2" stroke="#3c6792" stroke-width="2.1" stroke-dasharray="6,2"/>
<text x="-0.50" y="1588.80" font-size="34.70" fill="#111111" textLength="51.39" lengthAdjust="spacingAndGlyphs" transform="matrix(1,0,0,1.0500,0,-79.440)">(C)</text>
<text x="57.53" y="1588.80" font-size="34.70" fill="#111111" textLength="286.04" lengthAdjust="spacingAndGlyphs" transform="matrix(1,0,0,1.0500,0,-79.440)">All-cause mortality</text>
<text x="505.36" y="1646.40" font-size="25.00" fill="#111111" textLength="250.84" lengthAdjust="spacingAndGlyphs">KM Curve (Mortality)</text>
<text transform="translate(218.00,1990.80) rotate(-90) scale(1,1.050)" x="0" y="0" font-size="24.40" fill="#111111" textLength="203.85" lengthAdjust="spacingAndGlyphs">Survival probability</text>
<text x="240.36" y="1697.90" font-size="22.30" fill="#3a3a3a" textLength="57.03" lengthAdjust="spacingAndGlyphs" transform="matrix(1,0,0,1.0400,0,-67.916)">100%</text>
<text x="252.76" y="1833.70" font-size="22.30" fill="#3a3a3a" textLength="44.63" lengthAdjust="spacingAndGlyphs" transform="matrix(1,0,0,1.0400,0,-73.348)">95%</text>
<text x="252.76" y="1969.50" font-size="22.30" fill="#3a3a3a" textLength="44.63" lengthAdjust="spacingAndGlyphs" transform="matrix(1,0,0,1.0400,0,-78.780)">90%</text>
<text x="252.76" y="2105.20" font-size="22.30" fill="#3a3a3a" textLength="44.63" lengthAdjust="spacingAndGlyphs" transform="matrix(1,0,0,1.0400,0,-84.208)">85%</text>
<text x="291.65" y="2141.50" font-size="20.50" fill="#3a3a3a" textLength="28.50" lengthAdjust="spacingAndGlyphs">0.0</text>
<text x="508.28" y="2141.50" font-size="20.50" fill="#3a3a3a" textLength="28.50" lengthAdjust="spacingAndGlyphs">0.5</text>
<text x="724.57" y="2141.50" font-size="20.50" fill="#3a3a3a" textLength="28.50" lengthAdjust="spacingAndGlyphs">1.0</text>
<text x="941.20" y="2141.50" font-size="20.50" fill="#3a3a3a" textLength="28.50" lengthAdjust="spacingAndGlyphs">1.5</text>
<text x="602.21" y="2180.10" font-size="22.50" fill="#111111" textLength="57.99" lengthAdjust="spacingAndGlyphs" transform="matrix(1,0,0,1.0800,0,-174.408)">Years</text>
<text x="845.30" y="1724.60" font-size="21.00" fill="#1a1a1a" textLength="83.51" lengthAdjust="spacingAndGlyphs" transform="matrix(1,0,0,1.0400,0,-68.984)">P&lt; 0.001</text>
<text x="388.50" y="2035.30" font-size="20.60" fill="#1a1a1a" textLength="99.53" lengthAdjust="spacingAndGlyphs">finerenone</text>
<text x="385.71" y="2067.40" font-size="20.60" fill="#1a1a1a" textLength="137.33" lengthAdjust="spacingAndGlyphs">spironolactone</text>
<text x="122.63" y="2210.90" font-size="21.00" fill="#111111" textLength="90.82" lengthAdjust="spacingAndGlyphs" transform="matrix(1,0,0,1.1000,0,-221.090)">Mortality</text>
<text x="224.48" y="2210.90" font-size="21.00" fill="#111111" textLength="5.83" lengthAdjust="spacingAndGlyphs">:</text>
<text x="239.38" y="2210.90" font-size="21.00" fill="#111111" textLength="327.15" lengthAdjust="spacingAndGlyphs" transform="matrix(1,0,0,1.1000,0,-221.090)">Number at risk(number event)</text>
<text x="122.21" y="2251.00" font-size="20.30" fill="#111111" textLength="97.91" lengthAdjust="spacingAndGlyphs">finerenone</text>
<text x="119.51" y="2273.80" font-size="20.30" fill="#111111" textLength="137.83" lengthAdjust="spacingAndGlyphs">spironolactone</text>
<text x="266.83" y="2251.00" font-size="20.00" fill="#111111" textLength="71.26" lengthAdjust="spacingAndGlyphs" transform="matrix(1,0,0,1.0300,0,-67.530)">1132(0)</text>
<text x="486.45" y="2251.00" font-size="20.00" fill="#111111" textLength="70.32" lengthAdjust="spacingAndGlyphs" transform="matrix(1,0,0,1.0300,0,-67.530)">1123(9)</text>
<text x="703.22" y="2251.00" font-size="20.00" fill="#111111" textLength="82.86" lengthAdjust="spacingAndGlyphs" transform="matrix(1,0,0,1.0300,0,-67.530)">1108(24)</text>
<text x="909.62" y="2251.00" font-size="20.00" fill="#111111" textLength="82.86" lengthAdjust="spacingAndGlyphs" transform="matrix(1,0,0,1.0300,0,-67.530)">1097(35)</text>
<text x="266.83" y="2274.20" font-size="20.00" fill="#111111" textLength="71.26" lengthAdjust="spacingAndGlyphs" transform="matrix(1,0,0,1.0300,0,-68.226)">1132(0)</text>
<text x="479.94" y="2274.20" font-size="20.00" fill="#111111" textLength="82.24" lengthAdjust="spacingAndGlyphs" transform="matrix(1,0,0,1.0300,0,-68.226)">1068(64)</text>
<text x="696.41" y="2274.20" font-size="20.00" fill="#111111" textLength="94.88" lengthAdjust="spacingAndGlyphs" transform="matrix(1,0,0,1.0300,0,-68.226)">1026(106)</text>
<text x="904.45" y="2274.20" font-size="20.00" fill="#111111" textLength="92.81" lengthAdjust="spacingAndGlyphs" transform="matrix(1,0,0,1.0300,0,-68.226)">1020(112)</text>
</svg>
</body></html>
